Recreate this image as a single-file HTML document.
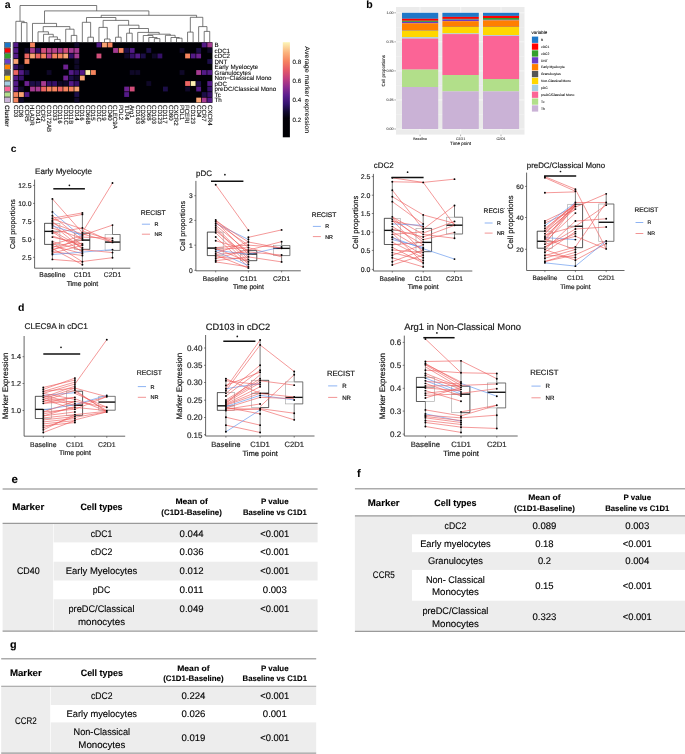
<!DOCTYPE html>
<html><head><meta charset="utf-8"><title>Figure</title>
<style>html,body{margin:0;padding:0;background:#fff;} svg{display:block;font-family:"Liberation Sans", sans-serif;will-change:transform;text-rendering:geometricPrecision;} g.pt text{stroke:#222;stroke-width:0.18px;} g.tb text{stroke:#000;stroke-width:0.12px;} g.pa text{stroke:#333;stroke-width:0.1px;}</style>
</head><body>
<svg width="685" height="754" viewBox="0 0 685 754">
<rect width="685" height="754" fill="#fff"/>
<g class="pa"><text x="4.70" y="7.70" font-size="10.5" text-anchor="start" font-weight="bold" fill="#000" >a</text>
<rect x="13.1" y="42.2" width="199.40" height="60.60" fill="#000004"/>
<rect x="13.45" y="42.55" width="4.84" height="4.81" fill="#531a87"/>
<rect x="30.07" y="42.55" width="4.84" height="4.81" fill="#f5845e"/>
<rect x="74.38" y="42.55" width="4.84" height="4.81" fill="#0f0828"/>
<rect x="96.53" y="42.55" width="4.84" height="4.81" fill="#531a87"/>
<rect x="102.07" y="42.55" width="4.84" height="4.81" fill="#f9a473"/>
<rect x="107.61" y="42.55" width="4.84" height="4.81" fill="#f5845e"/>
<rect x="201.77" y="42.55" width="4.84" height="4.81" fill="#531a87"/>
<rect x="207.31" y="42.55" width="4.84" height="4.81" fill="#a53a91"/>
<rect x="13.45" y="48.06" width="4.84" height="4.81" fill="#531a87"/>
<rect x="24.53" y="48.06" width="4.84" height="4.81" fill="#0f0828"/>
<rect x="30.07" y="48.06" width="4.84" height="4.81" fill="#a53a91"/>
<rect x="35.61" y="48.06" width="4.84" height="4.81" fill="#351068"/>
<rect x="41.14" y="48.06" width="4.84" height="4.81" fill="#d24e7a"/>
<rect x="46.68" y="48.06" width="4.84" height="4.81" fill="#b8428c"/>
<rect x="52.22" y="48.06" width="4.84" height="4.81" fill="#b8428c"/>
<rect x="57.76" y="48.06" width="4.84" height="4.81" fill="#a53a91"/>
<rect x="63.30" y="48.06" width="4.84" height="4.81" fill="#d24e7a"/>
<rect x="68.84" y="48.06" width="4.84" height="4.81" fill="#a53a91"/>
<rect x="74.38" y="48.06" width="4.84" height="4.81" fill="#a53a91"/>
<rect x="113.15" y="48.06" width="4.84" height="4.81" fill="#a53a91"/>
<rect x="118.69" y="48.06" width="4.84" height="4.81" fill="#f5845e"/>
<rect x="124.23" y="48.06" width="4.84" height="4.81" fill="#1c0e48"/>
<rect x="129.77" y="48.06" width="4.84" height="4.81" fill="#531a87"/>
<rect x="146.38" y="48.06" width="4.84" height="4.81" fill="#1c0e48"/>
<rect x="179.62" y="48.06" width="4.84" height="4.81" fill="#0f0828"/>
<rect x="196.23" y="48.06" width="4.84" height="4.81" fill="#1c0e48"/>
<rect x="207.31" y="48.06" width="4.84" height="4.81" fill="#0f0828"/>
<rect x="13.45" y="53.57" width="4.84" height="4.81" fill="#531a87"/>
<rect x="24.53" y="53.57" width="4.84" height="4.81" fill="#ec6563"/>
<rect x="30.07" y="53.57" width="4.84" height="4.81" fill="#f9a473"/>
<rect x="35.61" y="53.57" width="4.84" height="4.81" fill="#ec6563"/>
<rect x="41.14" y="53.57" width="4.84" height="4.81" fill="#f5845e"/>
<rect x="46.68" y="53.57" width="4.84" height="4.81" fill="#b8428c"/>
<rect x="52.22" y="53.57" width="4.84" height="4.81" fill="#f5845e"/>
<rect x="57.76" y="53.57" width="4.84" height="4.81" fill="#f5845e"/>
<rect x="63.30" y="53.57" width="4.84" height="4.81" fill="#f9a473"/>
<rect x="68.84" y="53.57" width="4.84" height="4.81" fill="#351068"/>
<rect x="74.38" y="53.57" width="4.84" height="4.81" fill="#a53a91"/>
<rect x="96.53" y="53.57" width="4.84" height="4.81" fill="#d24e7a"/>
<rect x="124.23" y="53.57" width="4.84" height="4.81" fill="#0f0828"/>
<rect x="129.77" y="53.57" width="4.84" height="4.81" fill="#351068"/>
<rect x="135.31" y="53.57" width="4.84" height="4.81" fill="#531a87"/>
<rect x="140.84" y="53.57" width="4.84" height="4.81" fill="#1c0e48"/>
<rect x="151.92" y="53.57" width="4.84" height="4.81" fill="#0f0828"/>
<rect x="157.46" y="53.57" width="4.84" height="4.81" fill="#351068"/>
<rect x="185.16" y="53.57" width="4.84" height="4.81" fill="#f5845e"/>
<rect x="190.69" y="53.57" width="4.84" height="4.81" fill="#531a87"/>
<rect x="196.23" y="53.57" width="4.84" height="4.81" fill="#6d2191"/>
<rect x="13.45" y="59.08" width="4.84" height="4.81" fill="#f9a473"/>
<rect x="24.53" y="59.08" width="4.84" height="4.81" fill="#f5845e"/>
<rect x="74.38" y="59.08" width="4.84" height="4.81" fill="#0f0828"/>
<rect x="207.31" y="59.08" width="4.84" height="4.81" fill="#1c0e48"/>
<rect x="13.45" y="64.59" width="4.84" height="4.81" fill="#351068"/>
<rect x="18.99" y="64.59" width="4.84" height="4.81" fill="#0f0828"/>
<rect x="63.30" y="64.59" width="4.84" height="4.81" fill="#6d2191"/>
<rect x="74.38" y="64.59" width="4.84" height="4.81" fill="#0f0828"/>
<rect x="13.45" y="70.10" width="4.84" height="4.81" fill="#ec6563"/>
<rect x="18.99" y="70.10" width="4.84" height="4.81" fill="#531a87"/>
<rect x="24.53" y="70.10" width="4.84" height="4.81" fill="#1c0e48"/>
<rect x="46.68" y="70.10" width="4.84" height="4.81" fill="#0f0828"/>
<rect x="68.84" y="70.10" width="4.84" height="4.81" fill="#531a87"/>
<rect x="74.38" y="70.10" width="4.84" height="4.81" fill="#351068"/>
<rect x="79.92" y="70.10" width="4.84" height="4.81" fill="#531a87"/>
<rect x="85.46" y="70.10" width="4.84" height="4.81" fill="#fbf0b2"/>
<rect x="90.99" y="70.10" width="4.84" height="4.81" fill="#f5845e"/>
<rect x="129.77" y="70.10" width="4.84" height="4.81" fill="#0f0828"/>
<rect x="135.31" y="70.10" width="4.84" height="4.81" fill="#0f0828"/>
<rect x="179.62" y="70.10" width="4.84" height="4.81" fill="#0f0828"/>
<rect x="196.23" y="70.10" width="4.84" height="4.81" fill="#a53a91"/>
<rect x="201.77" y="70.10" width="4.84" height="4.81" fill="#531a87"/>
<rect x="207.31" y="70.10" width="4.84" height="4.81" fill="#531a87"/>
<rect x="13.45" y="75.60" width="4.84" height="4.81" fill="#531a87"/>
<rect x="18.99" y="75.60" width="4.84" height="4.81" fill="#351068"/>
<rect x="63.30" y="75.60" width="4.84" height="4.81" fill="#6d2191"/>
<rect x="68.84" y="75.60" width="4.84" height="4.81" fill="#1c0e48"/>
<rect x="74.38" y="75.60" width="4.84" height="4.81" fill="#0f0828"/>
<rect x="79.92" y="75.60" width="4.84" height="4.81" fill="#f9a473"/>
<rect x="13.45" y="81.11" width="4.84" height="4.81" fill="#531a87"/>
<rect x="24.53" y="81.11" width="4.84" height="4.81" fill="#6d2191"/>
<rect x="30.07" y="81.11" width="4.84" height="4.81" fill="#1c0e48"/>
<rect x="35.61" y="81.11" width="4.84" height="4.81" fill="#1c0e48"/>
<rect x="41.14" y="81.11" width="4.84" height="4.81" fill="#a53a91"/>
<rect x="46.68" y="81.11" width="4.84" height="4.81" fill="#351068"/>
<rect x="52.22" y="81.11" width="4.84" height="4.81" fill="#351068"/>
<rect x="57.76" y="81.11" width="4.84" height="4.81" fill="#0f0828"/>
<rect x="63.30" y="81.11" width="4.84" height="4.81" fill="#0f0828"/>
<rect x="68.84" y="81.11" width="4.84" height="4.81" fill="#531a87"/>
<rect x="74.38" y="81.11" width="4.84" height="4.81" fill="#351068"/>
<rect x="146.38" y="81.11" width="4.84" height="4.81" fill="#0f0828"/>
<rect x="185.16" y="81.11" width="4.84" height="4.81" fill="#ec6563"/>
<rect x="190.69" y="81.11" width="4.84" height="4.81" fill="#fbf0b2"/>
<rect x="196.23" y="81.11" width="4.84" height="4.81" fill="#1c0e48"/>
<rect x="207.31" y="81.11" width="4.84" height="4.81" fill="#531a87"/>
<rect x="13.45" y="86.62" width="4.84" height="4.81" fill="#531a87"/>
<rect x="18.99" y="86.62" width="4.84" height="4.81" fill="#0f0828"/>
<rect x="30.07" y="86.62" width="4.84" height="4.81" fill="#a53a91"/>
<rect x="35.61" y="86.62" width="4.84" height="4.81" fill="#a53a91"/>
<rect x="41.14" y="86.62" width="4.84" height="4.81" fill="#ec6563"/>
<rect x="46.68" y="86.62" width="4.84" height="4.81" fill="#f5845e"/>
<rect x="52.22" y="86.62" width="4.84" height="4.81" fill="#f5845e"/>
<rect x="57.76" y="86.62" width="4.84" height="4.81" fill="#ec6563"/>
<rect x="63.30" y="86.62" width="4.84" height="4.81" fill="#f5845e"/>
<rect x="68.84" y="86.62" width="4.84" height="4.81" fill="#f5845e"/>
<rect x="74.38" y="86.62" width="4.84" height="4.81" fill="#f9a473"/>
<rect x="124.23" y="86.62" width="4.84" height="4.81" fill="#6d2191"/>
<rect x="129.77" y="86.62" width="4.84" height="4.81" fill="#d24e7a"/>
<rect x="163.00" y="86.62" width="4.84" height="4.81" fill="#1c0e48"/>
<rect x="185.16" y="86.62" width="4.84" height="4.81" fill="#0f0828"/>
<rect x="196.23" y="86.62" width="4.84" height="4.81" fill="#531a87"/>
<rect x="207.31" y="86.62" width="4.84" height="4.81" fill="#351068"/>
<rect x="13.45" y="92.13" width="4.84" height="4.81" fill="#f5845e"/>
<rect x="18.99" y="92.13" width="4.84" height="4.81" fill="#f9a473"/>
<rect x="24.53" y="92.13" width="4.84" height="4.81" fill="#531a87"/>
<rect x="74.38" y="92.13" width="4.84" height="4.81" fill="#1c0e48"/>
<rect x="124.23" y="92.13" width="4.84" height="4.81" fill="#531a87"/>
<rect x="201.77" y="92.13" width="4.84" height="4.81" fill="#1c0e48"/>
<rect x="207.31" y="92.13" width="4.84" height="4.81" fill="#351068"/>
<rect x="13.45" y="97.64" width="4.84" height="4.81" fill="#f5845e"/>
<rect x="18.99" y="97.64" width="4.84" height="4.81" fill="#0f0828"/>
<rect x="74.38" y="97.64" width="4.84" height="4.81" fill="#0f0828"/>
<rect x="196.23" y="97.64" width="4.84" height="4.81" fill="#f9a473"/>
<rect x="201.77" y="97.64" width="4.84" height="4.81" fill="#a53a91"/>
<rect x="207.31" y="97.64" width="4.84" height="4.81" fill="#531a87"/>
<line x1="12.799999999999999" y1="42.2" x2="12.799999999999999" y2="102.8" stroke="#9a9a9a" stroke-width="0.8"/>
<rect x="4.6" y="42.60" width="5.9" height="4.71" fill="#1f78c8" stroke="#444" stroke-width="0.6"/>
<rect x="4.6" y="48.11" width="5.9" height="4.71" fill="#ff0000" stroke="#444" stroke-width="0.6"/>
<rect x="4.6" y="53.62" width="5.9" height="4.71" fill="#33a02c" stroke="#444" stroke-width="0.6"/>
<rect x="4.6" y="59.13" width="5.9" height="4.71" fill="#6a3dc8" stroke="#444" stroke-width="0.6"/>
<rect x="4.6" y="64.64" width="5.9" height="4.71" fill="#ff7f00" stroke="#444" stroke-width="0.6"/>
<rect x="4.6" y="70.15" width="5.9" height="4.71" fill="#565656" stroke="#444" stroke-width="0.6"/>
<rect x="4.6" y="75.65" width="5.9" height="4.71" fill="#ffd700" stroke="#444" stroke-width="0.6"/>
<rect x="4.6" y="81.16" width="5.9" height="4.71" fill="#a6cee3" stroke="#444" stroke-width="0.6"/>
<rect x="4.6" y="86.67" width="5.9" height="4.71" fill="#fb6496" stroke="#444" stroke-width="0.6"/>
<rect x="4.6" y="92.18" width="5.9" height="4.71" fill="#b2df8a" stroke="#444" stroke-width="0.6"/>
<rect x="4.6" y="97.69" width="5.9" height="4.71" fill="#cab2d6" stroke="#444" stroke-width="0.6"/>
<text x="214.60" y="47.15" font-size="6.2" text-anchor="start" font-weight="normal" fill="#000" >B</text>
<text x="214.60" y="52.66" font-size="6.2" text-anchor="start" font-weight="normal" fill="#000" >cDC1</text>
<text x="214.60" y="58.17" font-size="6.2" text-anchor="start" font-weight="normal" fill="#000" >cDC2</text>
<text x="214.60" y="63.68" font-size="6.2" text-anchor="start" font-weight="normal" fill="#000" >DNT</text>
<text x="214.60" y="69.19" font-size="6.2" text-anchor="start" font-weight="normal" fill="#000" >Early Myelocyte</text>
<text x="214.60" y="74.70" font-size="6.2" text-anchor="start" font-weight="normal" fill="#000" >Granulocytes</text>
<text x="214.60" y="80.21" font-size="6.2" text-anchor="start" font-weight="normal" fill="#000" >Non−Classical Mono</text>
<text x="214.60" y="85.72" font-size="6.2" text-anchor="start" font-weight="normal" fill="#000" >pDC</text>
<text x="214.60" y="91.23" font-size="6.2" text-anchor="start" font-weight="normal" fill="#000" >preDC/Classical Mono</text>
<text x="214.60" y="96.74" font-size="6.2" text-anchor="start" font-weight="normal" fill="#000" >Tc</text>
<text x="214.60" y="102.25" font-size="6.2" text-anchor="start" font-weight="normal" fill="#000" >Th</text>
<text transform="translate(13.77,105.0) rotate(90)" font-size="6.1" fill="#000">CD3</text>
<text transform="translate(19.31,105.0) rotate(90)" font-size="6.1" fill="#000">CD8</text>
<text transform="translate(24.85,105.0) rotate(90)" font-size="6.1" fill="#000">CCR5</text>
<text transform="translate(30.39,105.0) rotate(90)" font-size="6.1" fill="#000">HLADR</text>
<text transform="translate(35.92,105.0) rotate(90)" font-size="6.1" fill="#000">CD141</text>
<text transform="translate(41.46,105.0) rotate(90)" font-size="6.1" fill="#000">CCR2</text>
<text transform="translate(47.00,105.0) rotate(90)" font-size="6.1" fill="#000">CD172AB</text>
<text transform="translate(52.54,105.0) rotate(90)" font-size="6.1" fill="#000">CD33</text>
<text transform="translate(58.08,105.0) rotate(90)" font-size="6.1" fill="#000">CD116</text>
<text transform="translate(63.62,105.0) rotate(90)" font-size="6.1" fill="#000">CD11C</text>
<text transform="translate(69.16,105.0) rotate(90)" font-size="6.1" fill="#000">CD11B</text>
<text transform="translate(74.70,105.0) rotate(90)" font-size="6.1" fill="#000">CD14</text>
<text transform="translate(80.24,105.0) rotate(90)" font-size="6.1" fill="#000">CD16</text>
<text transform="translate(85.77,105.0) rotate(90)" font-size="6.1" fill="#000">CD66B</text>
<text transform="translate(91.31,105.0) rotate(90)" font-size="6.1" fill="#000">CD15</text>
<text transform="translate(96.85,105.0) rotate(90)" font-size="6.1" fill="#000">CD1C</text>
<text transform="translate(102.39,105.0) rotate(90)" font-size="6.1" fill="#000">CD19</text>
<text transform="translate(107.93,105.0) rotate(90)" font-size="6.1" fill="#000">CD40</text>
<text transform="translate(113.47,105.0) rotate(90)" font-size="6.1" fill="#000">CLEC9A</text>
<text transform="translate(119.01,105.0) rotate(90)" font-size="6.1" fill="#000">PDL2</text>
<text transform="translate(124.55,105.0) rotate(90)" font-size="6.1" fill="#000">TLR4</text>
<text transform="translate(130.09,105.0) rotate(90)" font-size="6.1" fill="#000">Arg1</text>
<text transform="translate(135.62,105.0) rotate(90)" font-size="6.1" fill="#000">CD163</text>
<text transform="translate(141.16,105.0) rotate(90)" font-size="6.1" fill="#000">CD206</text>
<text transform="translate(146.70,105.0) rotate(90)" font-size="6.1" fill="#000">CD68</text>
<text transform="translate(152.24,105.0) rotate(90)" font-size="6.1" fill="#000">CD103</text>
<text transform="translate(157.78,105.0) rotate(90)" font-size="6.1" fill="#000">CD123</text>
<text transform="translate(163.32,105.0) rotate(90)" font-size="6.1" fill="#000">CD117</text>
<text transform="translate(168.86,105.0) rotate(90)" font-size="6.1" fill="#000">CD80</text>
<text transform="translate(174.40,105.0) rotate(90)" font-size="6.1" fill="#000">CXCR2</text>
<text transform="translate(179.94,105.0) rotate(90)" font-size="6.1" fill="#000">PDL1</text>
<text transform="translate(185.47,105.0) rotate(90)" font-size="6.1" fill="#000">FCERI</text>
<text transform="translate(191.01,105.0) rotate(90)" font-size="6.1" fill="#000">CD123</text>
<text transform="translate(196.55,105.0) rotate(90)" font-size="6.1" fill="#000">CD4</text>
<text transform="translate(202.09,105.0) rotate(90)" font-size="6.1" fill="#000">CCR7</text>
<text transform="translate(207.63,105.0) rotate(90)" font-size="6.1" fill="#000">CXCR4</text>
<text transform="translate(5.35,105.0) rotate(90)" font-size="6.3" font-weight="bold" fill="#222">Cluster</text>
<path d="M21.41,42.20V22.60H26.95V42.20 M15.87,42.20V21.30H24.18V22.60 M54.64,42.20V39.40H60.18V42.20 M49.10,42.20V36.90H57.41V39.40 M43.56,42.20V34.30H53.26V36.90 M38.02,42.20V31.80H48.41V34.30 M71.26,42.20V35.40H76.80V42.20 M65.72,42.20V29.20H74.03V35.40 M43.22,31.80V26.60H69.87V29.20 M32.49,42.20V23.40H56.55V26.60 M87.87,42.20V37.20H93.41V42.20 M82.34,42.20V22.30H90.64V37.20 M104.49,42.20V39.00H110.03V42.20 M98.95,42.20V27.40H107.26V39.00 M115.57,42.20V37.20H121.11V42.20 M126.65,42.20V33.20H132.19V42.20 M154.34,42.20V38.60H159.88V42.20 M148.80,42.20V37.50H157.11V38.60 M143.26,42.20V35.50H152.96V37.50 M176.50,42.20V38.20H182.04V42.20 M170.96,42.20V37.50H179.27V38.20 M165.42,42.20V35.30H175.11V37.50 M148.11,35.50V34.20H170.27V35.30 M137.72,42.20V32.40H159.19V34.20 M129.42,33.20V28.50H148.46V32.40 M118.34,37.20V25.20H138.94V28.50 M103.11,27.40V20.40H128.64V25.20 M86.49,22.30V17.50H115.87V20.40 M187.57,42.20V32.10H193.11V42.20 M204.19,42.20V31.40H209.73V42.20 M198.65,42.20V26.60H206.96V31.40 M190.34,32.10V17.30H202.81V26.60 M101.18,17.50V15.30H196.58V17.30 M44.52,23.40V10.90H148.88V15.30 M20.02,21.30V5.50H96.70V10.90" fill="none" stroke="#4d4d4d" stroke-width="0.75"/>
<defs><linearGradient id="cbar" x1="0" y1="1" x2="0" y2="0"><stop offset="0" stop-color="#000004"/><stop offset="0.2" stop-color="#030108"/><stop offset="0.27" stop-color="#120a30"/><stop offset="0.35" stop-color="#33136e"/><stop offset="0.44" stop-color="#5b1d8e"/><stop offset="0.53" stop-color="#8e2d8f"/><stop offset="0.62" stop-color="#c23f7e"/><stop offset="0.71" stop-color="#e65a66"/><stop offset="0.80" stop-color="#f6835f"/><stop offset="0.89" stop-color="#fbb27c"/><stop offset="1" stop-color="#fcf5b8"/></linearGradient></defs>
<rect x="282.8" y="42.2" width="7.1" height="95.1" fill="url(#cbar)"/>
<line x1="289.9" y1="61.7" x2="291.2" y2="61.7" stroke="#fff" stroke-width="0.5"/>
<text x="292.60" y="63.90" font-size="6.2" text-anchor="start" font-weight="normal" fill="#000" >0.8</text>
<line x1="289.9" y1="80.7" x2="291.2" y2="80.7" stroke="#fff" stroke-width="0.5"/>
<text x="292.60" y="82.90" font-size="6.2" text-anchor="start" font-weight="normal" fill="#000" >0.6</text>
<line x1="289.9" y1="99.9" x2="291.2" y2="99.9" stroke="#fff" stroke-width="0.5"/>
<text x="292.60" y="102.10" font-size="6.2" text-anchor="start" font-weight="normal" fill="#000" >0.4</text>
<line x1="289.9" y1="119.3" x2="291.2" y2="119.3" stroke="#fff" stroke-width="0.5"/>
<text x="292.60" y="121.50" font-size="6.2" text-anchor="start" font-weight="normal" fill="#000" >0.2</text>
<text transform="translate(305.2,46.3) rotate(90)" font-size="6.6" fill="#000" textLength="87" lengthAdjust="spacingAndGlyphs">Average marker expression</text></g>
<g class="pa"><text x="366.30" y="8.40" font-size="10.5" text-anchor="start" font-weight="bold" fill="#000" >b</text>
<rect x="396" y="7" width="128.5" height="127.6" fill="#ebebeb"/>
<line x1="396" y1="129.00" x2="524.5" y2="129.00" stroke="#fff" stroke-width="0.55"/>
<line x1="396" y1="99.95" x2="524.5" y2="99.95" stroke="#fff" stroke-width="0.55"/>
<line x1="396" y1="70.90" x2="524.5" y2="70.90" stroke="#fff" stroke-width="0.55"/>
<line x1="396" y1="41.85" x2="524.5" y2="41.85" stroke="#fff" stroke-width="0.55"/>
<line x1="396" y1="12.80" x2="524.5" y2="12.80" stroke="#fff" stroke-width="0.55"/>
<line x1="396" y1="114.47" x2="524.5" y2="114.47" stroke="#f7f7f7" stroke-width="0.3"/>
<line x1="396" y1="85.42" x2="524.5" y2="85.42" stroke="#f7f7f7" stroke-width="0.3"/>
<line x1="396" y1="56.38" x2="524.5" y2="56.38" stroke="#f7f7f7" stroke-width="0.3"/>
<line x1="396" y1="27.33" x2="524.5" y2="27.33" stroke="#f7f7f7" stroke-width="0.3"/>
<line x1="420" y1="7" x2="420" y2="134.6" stroke="#fff" stroke-width="0.55"/>
<line x1="460.7" y1="7" x2="460.7" y2="134.6" stroke="#fff" stroke-width="0.55"/>
<line x1="501" y1="7" x2="501" y2="134.6" stroke="#fff" stroke-width="0.55"/>
<rect x="402.0" y="12.80" width="36.20" height="6.00" fill="#1f78c8"/>
<rect x="402.0" y="18.80" width="36.20" height="2.00" fill="#ff0000"/>
<rect x="402.0" y="20.80" width="36.20" height="1.10" fill="#33a02c"/>
<rect x="402.0" y="21.90" width="36.20" height="1.40" fill="#6a3dc8"/>
<rect x="402.0" y="23.30" width="36.20" height="7.20" fill="#ff7f00"/>
<rect x="402.0" y="30.50" width="36.20" height="0.30" fill="#565656"/>
<rect x="402.0" y="30.80" width="36.20" height="6.40" fill="#ffd700"/>
<rect x="402.0" y="37.20" width="36.20" height="1.40" fill="#a6cee3"/>
<rect x="402.0" y="38.60" width="36.20" height="31.00" fill="#fb6496"/>
<rect x="402.0" y="69.60" width="36.20" height="17.40" fill="#b2df8a"/>
<rect x="402.0" y="87.00" width="36.20" height="42.00" fill="#cab2d6"/>
<rect x="442.4" y="12.80" width="36.40" height="4.10" fill="#1f78c8"/>
<rect x="442.4" y="16.90" width="36.40" height="2.00" fill="#ff0000"/>
<rect x="442.4" y="18.90" width="36.40" height="0.70" fill="#33a02c"/>
<rect x="442.4" y="19.60" width="36.40" height="1.60" fill="#6a3dc8"/>
<rect x="442.4" y="21.20" width="36.40" height="5.60" fill="#ff7f00"/>
<rect x="442.4" y="26.80" width="36.40" height="0.20" fill="#565656"/>
<rect x="442.4" y="27.00" width="36.40" height="6.40" fill="#ffd700"/>
<rect x="442.4" y="33.40" width="36.40" height="0.70" fill="#a6cee3"/>
<rect x="442.4" y="34.10" width="36.40" height="40.90" fill="#fb6496"/>
<rect x="442.4" y="75.00" width="36.40" height="16.40" fill="#b2df8a"/>
<rect x="442.4" y="91.40" width="36.40" height="37.60" fill="#cab2d6"/>
<rect x="483.0" y="12.80" width="36.10" height="3.10" fill="#1f78c8"/>
<rect x="483.0" y="15.90" width="36.10" height="2.10" fill="#ff0000"/>
<rect x="483.0" y="18.00" width="36.10" height="1.80" fill="#33a02c"/>
<rect x="483.0" y="19.80" width="36.10" height="0.60" fill="#6a3dc8"/>
<rect x="483.0" y="20.40" width="36.10" height="6.40" fill="#ff7f00"/>
<rect x="483.0" y="26.80" width="36.10" height="0.20" fill="#565656"/>
<rect x="483.0" y="27.00" width="36.10" height="8.10" fill="#ffd700"/>
<rect x="483.0" y="35.10" width="36.10" height="0.80" fill="#a6cee3"/>
<rect x="483.0" y="35.90" width="36.10" height="43.10" fill="#fb6496"/>
<rect x="483.0" y="79.00" width="36.10" height="12.40" fill="#b2df8a"/>
<rect x="483.0" y="91.40" width="36.10" height="37.60" fill="#cab2d6"/>
<line x1="394.3" y1="12.80" x2="396" y2="12.80" stroke="#333" stroke-width="0.4"/>
<text x="393.60" y="14.10" font-size="3.6" text-anchor="end" font-weight="normal" fill="#4d4d4d" >1.00</text>
<line x1="394.3" y1="41.85" x2="396" y2="41.85" stroke="#333" stroke-width="0.4"/>
<text x="393.60" y="43.15" font-size="3.6" text-anchor="end" font-weight="normal" fill="#4d4d4d" >0.75</text>
<line x1="394.3" y1="70.90" x2="396" y2="70.90" stroke="#333" stroke-width="0.4"/>
<text x="393.60" y="72.20" font-size="3.6" text-anchor="end" font-weight="normal" fill="#4d4d4d" >0.50</text>
<line x1="394.3" y1="99.95" x2="396" y2="99.95" stroke="#333" stroke-width="0.4"/>
<text x="393.60" y="101.25" font-size="3.6" text-anchor="end" font-weight="normal" fill="#4d4d4d" >0.25</text>
<line x1="394.3" y1="129.00" x2="396" y2="129.00" stroke="#333" stroke-width="0.4"/>
<text x="393.60" y="130.30" font-size="3.6" text-anchor="end" font-weight="normal" fill="#4d4d4d" >0.00</text>
<line x1="420.1" y1="134.6" x2="420.1" y2="136.2" stroke="#333" stroke-width="0.4"/>
<text x="420.10" y="139.60" font-size="3.6" text-anchor="middle" font-weight="normal" fill="#4d4d4d" >Baseline</text>
<line x1="460.6" y1="134.6" x2="460.6" y2="136.2" stroke="#333" stroke-width="0.4"/>
<text x="460.60" y="139.60" font-size="3.6" text-anchor="middle" font-weight="normal" fill="#4d4d4d" >C1D1</text>
<line x1="501.0" y1="134.6" x2="501.0" y2="136.2" stroke="#333" stroke-width="0.4"/>
<text x="501.00" y="139.60" font-size="3.6" text-anchor="middle" font-weight="normal" fill="#4d4d4d" >C2D1</text>
<text x="460.50" y="145.10" font-size="4.5" text-anchor="middle" font-weight="normal" fill="#000" >Time point</text>
<text transform="translate(385.4,70.8) rotate(-90)" font-size="4.5" text-anchor="middle" fill="#000">Cell proportions</text>
<text x="531.40" y="34.40" font-size="4.5" text-anchor="start" font-weight="normal" fill="#000" >variable</text>
<rect x="531.9" y="36.60" width="6.3" height="6.3" fill="#1f78c8"/>
<text x="541.00" y="40.95" font-size="3.35" text-anchor="start" font-weight="normal" fill="#222" >B</text>
<rect x="531.9" y="43.47" width="6.3" height="6.3" fill="#ff0000"/>
<text x="541.00" y="47.82" font-size="3.35" text-anchor="start" font-weight="normal" fill="#222" >cDC1</text>
<rect x="531.9" y="50.34" width="6.3" height="6.3" fill="#33a02c"/>
<text x="541.00" y="54.69" font-size="3.35" text-anchor="start" font-weight="normal" fill="#222" >cDC2</text>
<rect x="531.9" y="57.21" width="6.3" height="6.3" fill="#6a3dc8"/>
<text x="541.00" y="61.56" font-size="3.35" text-anchor="start" font-weight="normal" fill="#222" >DNT</text>
<rect x="531.9" y="64.08" width="6.3" height="6.3" fill="#ff7f00"/>
<text x="541.00" y="68.43" font-size="3.35" text-anchor="start" font-weight="normal" fill="#222" >Early Myelocyte</text>
<rect x="531.9" y="70.95" width="6.3" height="6.3" fill="#565656"/>
<text x="541.00" y="75.30" font-size="3.35" text-anchor="start" font-weight="normal" fill="#222" >Granulocytes</text>
<rect x="531.9" y="77.82" width="6.3" height="6.3" fill="#ffd700"/>
<text x="541.00" y="82.17" font-size="3.35" text-anchor="start" font-weight="normal" fill="#222" >Non-Classical Mono</text>
<rect x="531.9" y="84.69" width="6.3" height="6.3" fill="#a6cee3"/>
<text x="541.00" y="89.04" font-size="3.35" text-anchor="start" font-weight="normal" fill="#222" >pDC</text>
<rect x="531.9" y="91.56" width="6.3" height="6.3" fill="#fb6496"/>
<text x="541.00" y="95.91" font-size="3.35" text-anchor="start" font-weight="normal" fill="#222" >preDC/Classical Mono</text>
<rect x="531.9" y="98.43" width="6.3" height="6.3" fill="#b2df8a"/>
<text x="541.00" y="102.78" font-size="3.35" text-anchor="start" font-weight="normal" fill="#222" >Tc</text>
<rect x="531.9" y="105.30" width="6.3" height="6.3" fill="#cab2d6"/>
<text x="541.00" y="109.65" font-size="3.35" text-anchor="start" font-weight="normal" fill="#222" >Th</text></g>
<text x="10.80" y="151.80" font-size="10.3" text-anchor="start" font-weight="bold" fill="#000" >c</text>
<text x="17.90" y="311.20" font-size="10.5" text-anchor="start" font-weight="bold" fill="#000" >d</text>
<g class="pt"><line x1="52.40" y1="198.80" x2="52.40" y2="223.30" stroke="#222" stroke-width="0.6"/>
<line x1="52.40" y1="244.40" x2="52.40" y2="259.30" stroke="#222" stroke-width="0.6"/>
<rect x="44.60" y="223.30" width="15.30" height="21.10" fill="none" stroke="#a8a8a8" stroke-width="0.65"/>
<line x1="44.60" y1="231.40" x2="59.90" y2="231.40" stroke="#a8a8a8" stroke-width="1.2"/>
<path d="M52.40,223.30H44.60V244.40H52.40" fill="none" stroke="#262626" stroke-width="0.65"/>
<line x1="44.60" y1="231.40" x2="52.40" y2="231.40" stroke="#111" stroke-width="1.3"/>
<line x1="82.40" y1="212.60" x2="82.40" y2="233.20" stroke="#222" stroke-width="0.6"/>
<line x1="82.40" y1="249.30" x2="82.40" y2="264.70" stroke="#222" stroke-width="0.6"/>
<rect x="74.50" y="233.20" width="15.30" height="16.10" fill="none" stroke="#a8a8a8" stroke-width="0.65"/>
<line x1="74.50" y1="240.10" x2="89.80" y2="240.10" stroke="#a8a8a8" stroke-width="1.2"/>
<path d="M82.40,233.20H89.80V249.30H82.40" fill="none" stroke="#262626" stroke-width="0.65"/>
<line x1="82.40" y1="240.10" x2="89.80" y2="240.10" stroke="#111" stroke-width="1.3"/>
<line x1="112.50" y1="224.80" x2="112.50" y2="234.50" stroke="#222" stroke-width="0.6"/>
<line x1="112.50" y1="250.40" x2="112.50" y2="257.80" stroke="#222" stroke-width="0.6"/>
<rect x="105.10" y="234.50" width="15.00" height="15.90" fill="none" stroke="#a8a8a8" stroke-width="0.65"/>
<line x1="105.10" y1="242.10" x2="120.10" y2="242.10" stroke="#a8a8a8" stroke-width="1.2"/>
<line x1="105.10" y1="242.10" x2="120.10" y2="242.10" stroke="#111" stroke-width="1.3"/>
<path d="M112.50,234.50H120.10V250.40H112.50" fill="none" stroke="#555" stroke-width="0.6"/>
<line x1="52.40" y1="198.90" x2="82.40" y2="232.80" stroke="#ee5c5c" stroke-width="0.68" stroke-opacity="0.92"/>
<line x1="52.40" y1="211.90" x2="82.40" y2="237.60" stroke="#5a90ee" stroke-width="0.68" stroke-opacity="0.92"/>
<line x1="52.40" y1="215.80" x2="82.40" y2="240.00" stroke="#ee5c5c" stroke-width="0.68" stroke-opacity="0.92"/>
<line x1="52.40" y1="218.20" x2="82.40" y2="212.90" stroke="#ee5c5c" stroke-width="0.68" stroke-opacity="0.92"/>
<line x1="52.40" y1="220.20" x2="82.40" y2="214.40" stroke="#ee5c5c" stroke-width="0.68" stroke-opacity="0.92"/>
<line x1="52.40" y1="221.60" x2="82.40" y2="245.30" stroke="#ee5c5c" stroke-width="0.68" stroke-opacity="0.92"/>
<line x1="52.40" y1="223.10" x2="82.40" y2="234.20" stroke="#ee5c5c" stroke-width="0.68" stroke-opacity="0.92"/>
<line x1="52.40" y1="224.50" x2="82.40" y2="249.20" stroke="#ee5c5c" stroke-width="0.68" stroke-opacity="0.92"/>
<line x1="52.40" y1="226.00" x2="82.40" y2="235.00" stroke="#5a90ee" stroke-width="0.68" stroke-opacity="0.92"/>
<line x1="52.40" y1="228.00" x2="82.40" y2="238.60" stroke="#ee5c5c" stroke-width="0.68" stroke-opacity="0.92"/>
<line x1="52.40" y1="230.80" x2="82.40" y2="247.80" stroke="#ee5c5c" stroke-width="0.68" stroke-opacity="0.92"/>
<line x1="52.40" y1="231.80" x2="82.40" y2="252.10" stroke="#ee5c5c" stroke-width="0.68" stroke-opacity="0.92"/>
<line x1="52.40" y1="233.20" x2="82.40" y2="227.90" stroke="#ee5c5c" stroke-width="0.68" stroke-opacity="0.92"/>
<line x1="52.40" y1="237.10" x2="82.40" y2="243.90" stroke="#ee5c5c" stroke-width="0.68" stroke-opacity="0.92"/>
<line x1="52.40" y1="241.50" x2="82.40" y2="250.70" stroke="#ee5c5c" stroke-width="0.68" stroke-opacity="0.92"/>
<line x1="52.40" y1="242.90" x2="82.40" y2="261.80" stroke="#ee5c5c" stroke-width="0.68" stroke-opacity="0.92"/>
<line x1="52.40" y1="244.40" x2="82.40" y2="235.70" stroke="#ee5c5c" stroke-width="0.68" stroke-opacity="0.92"/>
<line x1="52.40" y1="245.80" x2="82.40" y2="253.60" stroke="#ee5c5c" stroke-width="0.68" stroke-opacity="0.92"/>
<line x1="52.40" y1="247.30" x2="82.40" y2="240.00" stroke="#ee5c5c" stroke-width="0.68" stroke-opacity="0.92"/>
<line x1="52.40" y1="248.70" x2="82.40" y2="264.70" stroke="#ee5c5c" stroke-width="0.68" stroke-opacity="0.92"/>
<line x1="52.40" y1="250.20" x2="82.40" y2="237.10" stroke="#ee5c5c" stroke-width="0.68" stroke-opacity="0.92"/>
<line x1="52.40" y1="251.60" x2="82.40" y2="255.50" stroke="#ee5c5c" stroke-width="0.68" stroke-opacity="0.92"/>
<line x1="52.40" y1="253.10" x2="82.40" y2="245.30" stroke="#ee5c5c" stroke-width="0.68" stroke-opacity="0.92"/>
<line x1="52.40" y1="254.50" x2="82.40" y2="252.10" stroke="#5a90ee" stroke-width="0.68" stroke-opacity="0.92"/>
<line x1="52.40" y1="259.40" x2="82.40" y2="261.80" stroke="#ee5c5c" stroke-width="0.68" stroke-opacity="0.92"/>
<line x1="52.40" y1="219.00" x2="82.40" y2="229.00" stroke="#ee5c5c" stroke-width="0.68" stroke-opacity="0.92"/>
<line x1="52.40" y1="236.00" x2="82.40" y2="246.00" stroke="#ee5c5c" stroke-width="0.68" stroke-opacity="0.92"/>
<line x1="52.40" y1="249.50" x2="82.40" y2="243.00" stroke="#ee5c5c" stroke-width="0.68" stroke-opacity="0.92"/>
<line x1="82.40" y1="232.30" x2="112.50" y2="183.00" stroke="#ee5c5c" stroke-width="0.68" stroke-opacity="0.92"/>
<line x1="82.40" y1="235.30" x2="112.50" y2="225.10" stroke="#ee5c5c" stroke-width="0.68" stroke-opacity="0.92"/>
<line x1="82.40" y1="228.10" x2="112.50" y2="242.40" stroke="#ee5c5c" stroke-width="0.68" stroke-opacity="0.92"/>
<line x1="82.40" y1="231.10" x2="112.50" y2="240.50" stroke="#ee5c5c" stroke-width="0.68" stroke-opacity="0.92"/>
<line x1="82.40" y1="237.10" x2="112.50" y2="238.20" stroke="#ee5c5c" stroke-width="0.68" stroke-opacity="0.92"/>
<line x1="82.40" y1="252.10" x2="112.50" y2="249.60" stroke="#5a90ee" stroke-width="0.68" stroke-opacity="0.92"/>
<line x1="82.40" y1="249.60" x2="112.50" y2="252.60" stroke="#ee5c5c" stroke-width="0.68" stroke-opacity="0.92"/>
<line x1="82.40" y1="261.50" x2="112.50" y2="257.70" stroke="#ee5c5c" stroke-width="0.68" stroke-opacity="0.92"/>
<line x1="82.40" y1="234.00" x2="112.50" y2="242.00" stroke="#ee5c5c" stroke-width="0.68" stroke-opacity="0.92"/>
<circle cx="52.40" cy="198.90" r="0.95" fill="#000"/>
<circle cx="52.40" cy="211.90" r="0.95" fill="#000"/>
<circle cx="52.40" cy="215.80" r="0.95" fill="#000"/>
<circle cx="52.40" cy="218.20" r="0.95" fill="#000"/>
<circle cx="52.40" cy="220.20" r="0.95" fill="#000"/>
<circle cx="52.40" cy="221.60" r="0.95" fill="#000"/>
<circle cx="52.40" cy="223.10" r="0.95" fill="#000"/>
<circle cx="52.40" cy="224.50" r="0.95" fill="#000"/>
<circle cx="52.40" cy="226.00" r="0.95" fill="#000"/>
<circle cx="52.40" cy="228.00" r="0.95" fill="#000"/>
<circle cx="52.40" cy="230.80" r="0.95" fill="#000"/>
<circle cx="52.40" cy="231.80" r="0.95" fill="#000"/>
<circle cx="52.40" cy="233.20" r="0.95" fill="#000"/>
<circle cx="52.40" cy="237.10" r="0.95" fill="#000"/>
<circle cx="52.40" cy="241.50" r="0.95" fill="#000"/>
<circle cx="52.40" cy="242.90" r="0.95" fill="#000"/>
<circle cx="52.40" cy="244.40" r="0.95" fill="#000"/>
<circle cx="52.40" cy="245.80" r="0.95" fill="#000"/>
<circle cx="52.40" cy="247.30" r="0.95" fill="#000"/>
<circle cx="52.40" cy="248.70" r="0.95" fill="#000"/>
<circle cx="52.40" cy="250.20" r="0.95" fill="#000"/>
<circle cx="52.40" cy="251.60" r="0.95" fill="#000"/>
<circle cx="52.40" cy="253.10" r="0.95" fill="#000"/>
<circle cx="52.40" cy="254.50" r="0.95" fill="#000"/>
<circle cx="52.40" cy="259.40" r="0.95" fill="#000"/>
<circle cx="82.40" cy="212.90" r="0.95" fill="#000"/>
<circle cx="82.40" cy="214.40" r="0.95" fill="#000"/>
<circle cx="82.40" cy="227.90" r="0.95" fill="#000"/>
<circle cx="82.40" cy="232.80" r="0.95" fill="#000"/>
<circle cx="82.40" cy="234.20" r="0.95" fill="#000"/>
<circle cx="82.40" cy="235.70" r="0.95" fill="#000"/>
<circle cx="82.40" cy="237.10" r="0.95" fill="#000"/>
<circle cx="82.40" cy="238.60" r="0.95" fill="#000"/>
<circle cx="82.40" cy="240.00" r="0.95" fill="#000"/>
<circle cx="82.40" cy="243.90" r="0.95" fill="#000"/>
<circle cx="82.40" cy="245.30" r="0.95" fill="#000"/>
<circle cx="82.40" cy="247.80" r="0.95" fill="#000"/>
<circle cx="82.40" cy="249.20" r="0.95" fill="#000"/>
<circle cx="82.40" cy="250.70" r="0.95" fill="#000"/>
<circle cx="82.40" cy="252.10" r="0.95" fill="#000"/>
<circle cx="82.40" cy="253.60" r="0.95" fill="#000"/>
<circle cx="82.40" cy="255.50" r="0.95" fill="#000"/>
<circle cx="82.40" cy="261.80" r="0.95" fill="#000"/>
<circle cx="82.40" cy="264.70" r="0.95" fill="#000"/>
<circle cx="112.50" cy="183.00" r="0.95" fill="#000"/>
<circle cx="112.50" cy="225.10" r="0.95" fill="#000"/>
<circle cx="112.50" cy="238.20" r="0.95" fill="#000"/>
<circle cx="112.50" cy="240.50" r="0.95" fill="#000"/>
<circle cx="112.50" cy="242.40" r="0.95" fill="#000"/>
<circle cx="112.50" cy="249.60" r="0.95" fill="#000"/>
<circle cx="112.50" cy="252.60" r="0.95" fill="#000"/>
<circle cx="112.50" cy="257.70" r="0.95" fill="#000"/>
<path d="M34.60,179.60V268.20H130.30" fill="none" stroke="#333" stroke-width="0.75"/>
<line x1="33.00" y1="185.40" x2="34.60" y2="185.40" stroke="#333" stroke-width="0.6"/>
<text x="31.50" y="187.85" font-size="6.8" text-anchor="end" font-weight="normal" fill="#2b2b2b" >12.5</text>
<line x1="33.00" y1="203.40" x2="34.60" y2="203.40" stroke="#333" stroke-width="0.6"/>
<text x="31.50" y="205.85" font-size="6.8" text-anchor="end" font-weight="normal" fill="#2b2b2b" >10.0</text>
<line x1="33.00" y1="221.30" x2="34.60" y2="221.30" stroke="#333" stroke-width="0.6"/>
<text x="31.50" y="223.75" font-size="6.8" text-anchor="end" font-weight="normal" fill="#2b2b2b" >7.5</text>
<line x1="33.00" y1="239.40" x2="34.60" y2="239.40" stroke="#333" stroke-width="0.6"/>
<text x="31.50" y="241.85" font-size="6.8" text-anchor="end" font-weight="normal" fill="#2b2b2b" >5.0</text>
<line x1="33.00" y1="257.30" x2="34.60" y2="257.30" stroke="#333" stroke-width="0.6"/>
<text x="31.50" y="259.75" font-size="6.8" text-anchor="end" font-weight="normal" fill="#2b2b2b" >2.5</text>
<line x1="52.40" y1="268.20" x2="52.40" y2="269.80" stroke="#333" stroke-width="0.6"/>
<text x="52.40" y="277.28" font-size="6.8" text-anchor="middle" font-weight="normal" fill="#2b2b2b" >Baseline</text>
<line x1="82.40" y1="268.20" x2="82.40" y2="269.80" stroke="#333" stroke-width="0.6"/>
<text x="82.40" y="277.28" font-size="6.8" text-anchor="middle" font-weight="normal" fill="#2b2b2b" >C1D1</text>
<line x1="112.50" y1="268.20" x2="112.50" y2="269.80" stroke="#333" stroke-width="0.6"/>
<text x="112.50" y="277.28" font-size="6.8" text-anchor="middle" font-weight="normal" fill="#2b2b2b" >C2D1</text>
<text x="82.40" y="286.08" font-size="6.8" text-anchor="middle" font-weight="normal" fill="#111" >Time point</text>
<text transform="translate(14.83,224.10) rotate(-90)" font-size="7.14" text-anchor="middle" fill="#111">Cell proportions</text>
<text x="35.00" y="173.80" font-size="8.0" fill="#111" textLength="57.0" lengthAdjust="spacingAndGlyphs">Early Myelocyte</text>
<line x1="53.30" y1="188.80" x2="84.90" y2="188.80" stroke="#111" stroke-width="1.5"/>
<circle cx="69.40" cy="185.30" r="0.85" fill="#111"/>
<g>
<text x="140.80" y="214.95" font-size="6.8" text-anchor="start" font-weight="normal" fill="#111" >RECIST</text>
<line x1="141.90" y1="224.20" x2="150.00" y2="224.20" stroke="#8db3f3" stroke-width="1.0"/>
<line x1="141.90" y1="234.20" x2="150.00" y2="234.20" stroke="#f29494" stroke-width="1.0"/>
<text x="154.40" y="226.21" font-size="5.44" text-anchor="start" font-weight="normal" fill="#111" >R</text>
<text x="154.40" y="236.21" font-size="5.44" text-anchor="start" font-weight="normal" fill="#111" >NR</text>
</g></g>
<g class="pt"><line x1="215.70" y1="219.60" x2="215.70" y2="232.10" stroke="#222" stroke-width="0.6"/>
<line x1="215.70" y1="255.60" x2="215.70" y2="262.40" stroke="#222" stroke-width="0.6"/>
<rect x="207.30" y="232.10" width="15.90" height="23.50" fill="none" stroke="#a8a8a8" stroke-width="0.65"/>
<line x1="207.30" y1="248.10" x2="223.20" y2="248.10" stroke="#a8a8a8" stroke-width="1.2"/>
<path d="M215.70,232.10H207.30V255.60H215.70" fill="none" stroke="#262626" stroke-width="0.65"/>
<line x1="207.30" y1="248.10" x2="215.70" y2="248.10" stroke="#111" stroke-width="1.3"/>
<line x1="248.40" y1="237.20" x2="248.40" y2="250.60" stroke="#222" stroke-width="0.6"/>
<line x1="248.40" y1="260.70" x2="248.40" y2="267.70" stroke="#222" stroke-width="0.6"/>
<rect x="240.40" y="250.60" width="16.40" height="10.10" fill="none" stroke="#a8a8a8" stroke-width="0.65"/>
<line x1="240.40" y1="254.00" x2="256.80" y2="254.00" stroke="#a8a8a8" stroke-width="1.2"/>
<path d="M248.40,250.60H256.80V260.70H248.40" fill="none" stroke="#262626" stroke-width="0.65"/>
<line x1="248.40" y1="254.00" x2="256.80" y2="254.00" stroke="#111" stroke-width="1.3"/>
<line x1="281.60" y1="241.90" x2="281.60" y2="245.60" stroke="#222" stroke-width="0.6"/>
<line x1="281.60" y1="255.60" x2="281.60" y2="262.40" stroke="#222" stroke-width="0.6"/>
<rect x="273.40" y="245.60" width="16.50" height="10.00" fill="none" stroke="#a8a8a8" stroke-width="0.65"/>
<line x1="273.40" y1="248.40" x2="289.90" y2="248.40" stroke="#a8a8a8" stroke-width="1.2"/>
<line x1="273.40" y1="248.40" x2="289.90" y2="248.40" stroke="#111" stroke-width="1.3"/>
<path d="M281.60,245.60H289.90V255.60H281.60" fill="none" stroke="#555" stroke-width="0.6"/>
<line x1="215.70" y1="184.71" x2="248.40" y2="230.25" stroke="#ee5c5c" stroke-width="0.68" stroke-opacity="0.92"/>
<line x1="215.70" y1="223.42" x2="248.40" y2="239.55" stroke="#5a90ee" stroke-width="0.68" stroke-opacity="0.92"/>
<line x1="215.70" y1="219.95" x2="248.40" y2="247.62" stroke="#ee5c5c" stroke-width="0.68" stroke-opacity="0.92"/>
<line x1="215.70" y1="221.56" x2="248.40" y2="254.44" stroke="#ee5c5c" stroke-width="0.68" stroke-opacity="0.92"/>
<line x1="215.70" y1="225.29" x2="248.40" y2="251.96" stroke="#ee5c5c" stroke-width="0.68" stroke-opacity="0.92"/>
<line x1="215.70" y1="227.15" x2="248.40" y2="259.40" stroke="#ee5c5c" stroke-width="0.68" stroke-opacity="0.92"/>
<line x1="215.70" y1="229.01" x2="248.40" y2="261.89" stroke="#ee5c5c" stroke-width="0.68" stroke-opacity="0.92"/>
<line x1="215.70" y1="230.87" x2="248.40" y2="256.92" stroke="#ee5c5c" stroke-width="0.68" stroke-opacity="0.92"/>
<line x1="215.70" y1="232.73" x2="248.40" y2="264.37" stroke="#ee5c5c" stroke-width="0.68" stroke-opacity="0.92"/>
<line x1="215.70" y1="237.07" x2="248.40" y2="266.85" stroke="#ee5c5c" stroke-width="0.68" stroke-opacity="0.92"/>
<line x1="215.70" y1="240.79" x2="248.40" y2="250.10" stroke="#ee5c5c" stroke-width="0.68" stroke-opacity="0.92"/>
<line x1="215.70" y1="247.62" x2="248.40" y2="245.14" stroke="#ee5c5c" stroke-width="0.68" stroke-opacity="0.92"/>
<line x1="215.70" y1="250.10" x2="248.40" y2="254.44" stroke="#5a90ee" stroke-width="0.68" stroke-opacity="0.92"/>
<line x1="215.70" y1="251.34" x2="248.40" y2="265.61" stroke="#5a90ee" stroke-width="0.68" stroke-opacity="0.92"/>
<line x1="215.70" y1="253.20" x2="248.40" y2="242.03" stroke="#ee5c5c" stroke-width="0.68" stroke-opacity="0.92"/>
<line x1="215.70" y1="255.06" x2="248.40" y2="268.09" stroke="#ee5c5c" stroke-width="0.68" stroke-opacity="0.92"/>
<line x1="215.70" y1="256.92" x2="248.40" y2="259.40" stroke="#ee5c5c" stroke-width="0.68" stroke-opacity="0.92"/>
<line x1="215.70" y1="258.78" x2="248.40" y2="249.48" stroke="#ee5c5c" stroke-width="0.68" stroke-opacity="0.92"/>
<line x1="215.70" y1="260.65" x2="248.40" y2="256.92" stroke="#ee5c5c" stroke-width="0.68" stroke-opacity="0.92"/>
<line x1="215.70" y1="261.89" x2="248.40" y2="266.85" stroke="#ee5c5c" stroke-width="0.68" stroke-opacity="0.92"/>
<line x1="215.70" y1="220.94" x2="248.40" y2="242.03" stroke="#ee5c5c" stroke-width="0.68" stroke-opacity="0.92"/>
<line x1="215.70" y1="222.80" x2="248.40" y2="245.14" stroke="#ee5c5c" stroke-width="0.68" stroke-opacity="0.92"/>
<line x1="215.70" y1="248.24" x2="248.40" y2="261.89" stroke="#ee5c5c" stroke-width="0.68" stroke-opacity="0.92"/>
<line x1="215.70" y1="254.44" x2="248.40" y2="251.96" stroke="#ee5c5c" stroke-width="0.68" stroke-opacity="0.92"/>
<line x1="215.70" y1="249.48" x2="248.40" y2="247.62" stroke="#ee5c5c" stroke-width="0.68" stroke-opacity="0.92"/>
<line x1="248.40" y1="237.32" x2="281.60" y2="229.88" stroke="#ee5c5c" stroke-width="0.68" stroke-opacity="0.92"/>
<line x1="248.40" y1="245.14" x2="281.60" y2="247.62" stroke="#ee5c5c" stroke-width="0.68" stroke-opacity="0.92"/>
<line x1="248.40" y1="247.62" x2="281.60" y2="256.92" stroke="#ee5c5c" stroke-width="0.68" stroke-opacity="0.92"/>
<line x1="248.40" y1="250.10" x2="281.60" y2="241.66" stroke="#ee5c5c" stroke-width="0.68" stroke-opacity="0.92"/>
<line x1="248.40" y1="254.44" x2="281.60" y2="247.00" stroke="#5a90ee" stroke-width="0.68" stroke-opacity="0.92"/>
<line x1="248.40" y1="256.92" x2="281.60" y2="261.89" stroke="#ee5c5c" stroke-width="0.68" stroke-opacity="0.92"/>
<line x1="248.40" y1="251.96" x2="281.60" y2="255.06" stroke="#ee5c5c" stroke-width="0.68" stroke-opacity="0.92"/>
<line x1="248.40" y1="242.03" x2="281.60" y2="248.24" stroke="#ee5c5c" stroke-width="0.68" stroke-opacity="0.92"/>
<circle cx="215.70" cy="184.71" r="0.95" fill="#000"/>
<circle cx="215.70" cy="219.95" r="0.95" fill="#000"/>
<circle cx="215.70" cy="221.56" r="0.95" fill="#000"/>
<circle cx="215.70" cy="223.42" r="0.95" fill="#000"/>
<circle cx="215.70" cy="225.29" r="0.95" fill="#000"/>
<circle cx="215.70" cy="227.15" r="0.95" fill="#000"/>
<circle cx="215.70" cy="229.01" r="0.95" fill="#000"/>
<circle cx="215.70" cy="230.87" r="0.95" fill="#000"/>
<circle cx="215.70" cy="232.73" r="0.95" fill="#000"/>
<circle cx="215.70" cy="237.07" r="0.95" fill="#000"/>
<circle cx="215.70" cy="240.79" r="0.95" fill="#000"/>
<circle cx="215.70" cy="247.62" r="0.95" fill="#000"/>
<circle cx="215.70" cy="249.48" r="0.95" fill="#000"/>
<circle cx="215.70" cy="251.34" r="0.95" fill="#000"/>
<circle cx="215.70" cy="253.20" r="0.95" fill="#000"/>
<circle cx="215.70" cy="255.06" r="0.95" fill="#000"/>
<circle cx="215.70" cy="256.92" r="0.95" fill="#000"/>
<circle cx="215.70" cy="258.78" r="0.95" fill="#000"/>
<circle cx="215.70" cy="260.65" r="0.95" fill="#000"/>
<circle cx="215.70" cy="261.89" r="0.95" fill="#000"/>
<circle cx="248.40" cy="230.25" r="0.95" fill="#000"/>
<circle cx="248.40" cy="237.32" r="0.95" fill="#000"/>
<circle cx="248.40" cy="239.55" r="0.95" fill="#000"/>
<circle cx="248.40" cy="242.03" r="0.95" fill="#000"/>
<circle cx="248.40" cy="245.14" r="0.95" fill="#000"/>
<circle cx="248.40" cy="247.62" r="0.95" fill="#000"/>
<circle cx="248.40" cy="250.10" r="0.95" fill="#000"/>
<circle cx="248.40" cy="251.96" r="0.95" fill="#000"/>
<circle cx="248.40" cy="254.44" r="0.95" fill="#000"/>
<circle cx="248.40" cy="256.92" r="0.95" fill="#000"/>
<circle cx="248.40" cy="259.40" r="0.95" fill="#000"/>
<circle cx="248.40" cy="261.89" r="0.95" fill="#000"/>
<circle cx="248.40" cy="264.37" r="0.95" fill="#000"/>
<circle cx="248.40" cy="266.85" r="0.95" fill="#000"/>
<circle cx="248.40" cy="268.09" r="0.95" fill="#000"/>
<circle cx="281.60" cy="229.88" r="0.95" fill="#000"/>
<circle cx="281.60" cy="241.66" r="0.95" fill="#000"/>
<circle cx="281.60" cy="247.00" r="0.95" fill="#000"/>
<circle cx="281.60" cy="248.24" r="0.95" fill="#000"/>
<circle cx="281.60" cy="255.06" r="0.95" fill="#000"/>
<circle cx="281.60" cy="261.89" r="0.95" fill="#000"/>
<path d="M195.90,180.90V270.80H300.80" fill="none" stroke="#333" stroke-width="0.75"/>
<line x1="194.30" y1="195.70" x2="195.90" y2="195.70" stroke="#333" stroke-width="0.6"/>
<text x="192.80" y="198.11" font-size="6.7" text-anchor="end" font-weight="normal" fill="#2b2b2b" >3</text>
<line x1="194.30" y1="220.40" x2="195.90" y2="220.40" stroke="#333" stroke-width="0.6"/>
<text x="192.80" y="222.81" font-size="6.7" text-anchor="end" font-weight="normal" fill="#2b2b2b" >2</text>
<line x1="194.30" y1="245.20" x2="195.90" y2="245.20" stroke="#333" stroke-width="0.6"/>
<text x="192.80" y="247.61" font-size="6.7" text-anchor="end" font-weight="normal" fill="#2b2b2b" >1</text>
<line x1="194.30" y1="270.30" x2="195.90" y2="270.30" stroke="#333" stroke-width="0.6"/>
<text x="192.80" y="272.71" font-size="6.7" text-anchor="end" font-weight="normal" fill="#2b2b2b" >0</text>
<line x1="215.70" y1="270.80" x2="215.70" y2="272.40" stroke="#333" stroke-width="0.6"/>
<text x="215.70" y="281.15" font-size="6.7" text-anchor="middle" font-weight="normal" fill="#2b2b2b" >Baseline</text>
<line x1="248.40" y1="270.80" x2="248.40" y2="272.40" stroke="#333" stroke-width="0.6"/>
<text x="248.40" y="281.15" font-size="6.7" text-anchor="middle" font-weight="normal" fill="#2b2b2b" >C1D1</text>
<line x1="281.60" y1="270.80" x2="281.60" y2="272.40" stroke="#333" stroke-width="0.6"/>
<text x="281.60" y="281.15" font-size="6.7" text-anchor="middle" font-weight="normal" fill="#2b2b2b" >C2D1</text>
<text x="248.40" y="289.35" font-size="6.7" text-anchor="middle" font-weight="normal" fill="#111" >Time point</text>
<text transform="translate(185.23,226.00) rotate(-90)" font-size="7.15" text-anchor="middle" fill="#111">Cell proportions</text>
<text x="196.00" y="176.00" font-size="7.95" fill="#111" textLength="15.9" lengthAdjust="spacingAndGlyphs">pDC</text>
<line x1="211.00" y1="181.30" x2="243.40" y2="181.30" stroke="#111" stroke-width="1.5"/>
<circle cx="224.90" cy="174.70" r="0.85" fill="#111"/>
<g>
<text x="311.80" y="217.01" font-size="6.7" text-anchor="start" font-weight="normal" fill="#111" >RECIST</text>
<line x1="312.88" y1="226.40" x2="320.86" y2="226.40" stroke="#8db3f3" stroke-width="1.0"/>
<line x1="312.88" y1="236.60" x2="320.86" y2="236.60" stroke="#f29494" stroke-width="1.0"/>
<text x="325.20" y="228.38" font-size="5.36" text-anchor="start" font-weight="normal" fill="#111" >R</text>
<text x="325.20" y="238.58" font-size="5.36" text-anchor="start" font-weight="normal" fill="#111" >NR</text>
</g></g>
<g class="pt"><line x1="392.30" y1="181.00" x2="392.30" y2="218.30" stroke="#222" stroke-width="0.6"/>
<line x1="392.30" y1="244.50" x2="392.30" y2="264.90" stroke="#222" stroke-width="0.6"/>
<rect x="384.30" y="218.30" width="16.00" height="26.20" fill="none" stroke="#a8a8a8" stroke-width="0.65"/>
<line x1="384.30" y1="230.40" x2="400.30" y2="230.40" stroke="#a8a8a8" stroke-width="1.2"/>
<path d="M392.30,218.30H384.30V244.50H392.30" fill="none" stroke="#262626" stroke-width="0.65"/>
<line x1="384.30" y1="230.40" x2="392.30" y2="230.40" stroke="#111" stroke-width="1.3"/>
<line x1="423.20" y1="215.10" x2="423.20" y2="228.40" stroke="#222" stroke-width="0.6"/>
<line x1="423.20" y1="251.70" x2="423.20" y2="267.00" stroke="#222" stroke-width="0.6"/>
<rect x="416.00" y="228.40" width="15.60" height="23.30" fill="none" stroke="#a8a8a8" stroke-width="0.65"/>
<line x1="416.00" y1="242.40" x2="431.60" y2="242.40" stroke="#a8a8a8" stroke-width="1.2"/>
<path d="M423.20,228.40H431.60V251.70H423.20" fill="none" stroke="#262626" stroke-width="0.65"/>
<line x1="423.20" y1="242.40" x2="431.60" y2="242.40" stroke="#111" stroke-width="1.3"/>
<line x1="454.50" y1="205.50" x2="454.50" y2="217.20" stroke="#222" stroke-width="0.6"/>
<line x1="454.50" y1="234.00" x2="454.50" y2="238.50" stroke="#222" stroke-width="0.6"/>
<rect x="446.60" y="217.20" width="16.00" height="16.80" fill="none" stroke="#a8a8a8" stroke-width="0.65"/>
<line x1="446.60" y1="225.20" x2="462.60" y2="225.20" stroke="#a8a8a8" stroke-width="1.2"/>
<line x1="446.60" y1="225.20" x2="462.60" y2="225.20" stroke="#111" stroke-width="1.3"/>
<path d="M454.50,217.20H462.60V234.00H454.50" fill="none" stroke="#555" stroke-width="0.6"/>
<line x1="392.30" y1="177.85" x2="423.20" y2="182.40" stroke="#ee5c5c" stroke-width="0.68" stroke-opacity="0.92"/>
<line x1="392.30" y1="181.75" x2="423.20" y2="182.40" stroke="#ee5c5c" stroke-width="0.68" stroke-opacity="0.92"/>
<line x1="392.30" y1="190.20" x2="423.20" y2="229.19" stroke="#ee5c5c" stroke-width="0.68" stroke-opacity="0.92"/>
<line x1="392.30" y1="196.69" x2="423.20" y2="214.89" stroke="#ee5c5c" stroke-width="0.68" stroke-opacity="0.92"/>
<line x1="392.30" y1="201.63" x2="423.20" y2="223.99" stroke="#ee5c5c" stroke-width="0.68" stroke-opacity="0.92"/>
<line x1="392.30" y1="216.84" x2="423.20" y2="234.39" stroke="#ee5c5c" stroke-width="0.68" stroke-opacity="0.92"/>
<line x1="392.30" y1="219.44" x2="423.20" y2="239.59" stroke="#ee5c5c" stroke-width="0.68" stroke-opacity="0.92"/>
<line x1="392.30" y1="221.39" x2="423.20" y2="226.59" stroke="#ee5c5c" stroke-width="0.68" stroke-opacity="0.92"/>
<line x1="392.30" y1="223.99" x2="423.20" y2="225.29" stroke="#5a90ee" stroke-width="0.68" stroke-opacity="0.92"/>
<line x1="392.30" y1="226.59" x2="423.20" y2="244.78" stroke="#ee5c5c" stroke-width="0.68" stroke-opacity="0.92"/>
<line x1="392.30" y1="229.19" x2="423.20" y2="236.99" stroke="#ee5c5c" stroke-width="0.68" stroke-opacity="0.92"/>
<line x1="392.30" y1="231.79" x2="423.20" y2="249.98" stroke="#ee5c5c" stroke-width="0.68" stroke-opacity="0.92"/>
<line x1="392.30" y1="234.39" x2="423.20" y2="231.79" stroke="#ee5c5c" stroke-width="0.68" stroke-opacity="0.92"/>
<line x1="392.30" y1="236.99" x2="423.20" y2="255.18" stroke="#ee5c5c" stroke-width="0.68" stroke-opacity="0.92"/>
<line x1="392.30" y1="237.64" x2="423.20" y2="248.68" stroke="#5a90ee" stroke-width="0.68" stroke-opacity="0.92"/>
<line x1="392.30" y1="239.59" x2="423.20" y2="247.38" stroke="#5a90ee" stroke-width="0.68" stroke-opacity="0.92"/>
<line x1="392.30" y1="242.18" x2="423.20" y2="257.78" stroke="#ee5c5c" stroke-width="0.68" stroke-opacity="0.92"/>
<line x1="392.30" y1="244.78" x2="423.20" y2="242.18" stroke="#ee5c5c" stroke-width="0.68" stroke-opacity="0.92"/>
<line x1="392.30" y1="247.38" x2="423.20" y2="262.98" stroke="#ee5c5c" stroke-width="0.68" stroke-opacity="0.92"/>
<line x1="392.30" y1="249.98" x2="423.20" y2="252.58" stroke="#ee5c5c" stroke-width="0.68" stroke-opacity="0.92"/>
<line x1="392.30" y1="252.58" x2="423.20" y2="260.38" stroke="#ee5c5c" stroke-width="0.68" stroke-opacity="0.92"/>
<line x1="392.30" y1="255.18" x2="423.20" y2="244.78" stroke="#ee5c5c" stroke-width="0.68" stroke-opacity="0.92"/>
<line x1="392.30" y1="257.78" x2="423.20" y2="266.88" stroke="#ee5c5c" stroke-width="0.68" stroke-opacity="0.92"/>
<line x1="392.30" y1="261.68" x2="423.20" y2="249.98" stroke="#ee5c5c" stroke-width="0.68" stroke-opacity="0.92"/>
<line x1="392.30" y1="264.93" x2="423.20" y2="255.18" stroke="#ee5c5c" stroke-width="0.68" stroke-opacity="0.92"/>
<line x1="392.30" y1="217.49" x2="423.20" y2="242.18" stroke="#ee5c5c" stroke-width="0.68" stroke-opacity="0.92"/>
<line x1="392.30" y1="220.09" x2="423.20" y2="252.58" stroke="#ee5c5c" stroke-width="0.68" stroke-opacity="0.92"/>
<line x1="392.30" y1="233.09" x2="423.20" y2="262.98" stroke="#ee5c5c" stroke-width="0.68" stroke-opacity="0.92"/>
<line x1="423.20" y1="182.40" x2="454.50" y2="179.15" stroke="#ee5c5c" stroke-width="0.68" stroke-opacity="0.92"/>
<line x1="423.20" y1="182.40" x2="454.50" y2="225.29" stroke="#ee5c5c" stroke-width="0.68" stroke-opacity="0.92"/>
<line x1="423.20" y1="214.89" x2="454.50" y2="223.34" stroke="#ee5c5c" stroke-width="0.68" stroke-opacity="0.92"/>
<line x1="423.20" y1="229.19" x2="454.50" y2="205.53" stroke="#ee5c5c" stroke-width="0.68" stroke-opacity="0.92"/>
<line x1="423.20" y1="233.09" x2="454.50" y2="221.39" stroke="#ee5c5c" stroke-width="0.68" stroke-opacity="0.92"/>
<line x1="423.20" y1="236.99" x2="454.50" y2="225.29" stroke="#ee5c5c" stroke-width="0.68" stroke-opacity="0.92"/>
<line x1="423.20" y1="239.59" x2="454.50" y2="232.44" stroke="#ee5c5c" stroke-width="0.68" stroke-opacity="0.92"/>
<line x1="423.20" y1="234.39" x2="454.50" y2="238.29" stroke="#ee5c5c" stroke-width="0.68" stroke-opacity="0.92"/>
<line x1="423.20" y1="248.68" x2="454.50" y2="259.08" stroke="#5a90ee" stroke-width="0.68" stroke-opacity="0.92"/>
<circle cx="392.30" cy="177.85" r="0.95" fill="#000"/>
<circle cx="392.30" cy="181.75" r="0.95" fill="#000"/>
<circle cx="392.30" cy="190.20" r="0.95" fill="#000"/>
<circle cx="392.30" cy="196.69" r="0.95" fill="#000"/>
<circle cx="392.30" cy="201.63" r="0.95" fill="#000"/>
<circle cx="392.30" cy="216.84" r="0.95" fill="#000"/>
<circle cx="392.30" cy="219.44" r="0.95" fill="#000"/>
<circle cx="392.30" cy="221.39" r="0.95" fill="#000"/>
<circle cx="392.30" cy="223.99" r="0.95" fill="#000"/>
<circle cx="392.30" cy="226.59" r="0.95" fill="#000"/>
<circle cx="392.30" cy="229.19" r="0.95" fill="#000"/>
<circle cx="392.30" cy="231.79" r="0.95" fill="#000"/>
<circle cx="392.30" cy="234.39" r="0.95" fill="#000"/>
<circle cx="392.30" cy="236.99" r="0.95" fill="#000"/>
<circle cx="392.30" cy="237.64" r="0.95" fill="#000"/>
<circle cx="392.30" cy="239.59" r="0.95" fill="#000"/>
<circle cx="392.30" cy="242.18" r="0.95" fill="#000"/>
<circle cx="392.30" cy="244.78" r="0.95" fill="#000"/>
<circle cx="392.30" cy="247.38" r="0.95" fill="#000"/>
<circle cx="392.30" cy="249.98" r="0.95" fill="#000"/>
<circle cx="392.30" cy="252.58" r="0.95" fill="#000"/>
<circle cx="392.30" cy="255.18" r="0.95" fill="#000"/>
<circle cx="392.30" cy="257.78" r="0.95" fill="#000"/>
<circle cx="392.30" cy="261.68" r="0.95" fill="#000"/>
<circle cx="392.30" cy="264.93" r="0.95" fill="#000"/>
<circle cx="423.20" cy="182.40" r="0.95" fill="#000"/>
<circle cx="423.20" cy="214.89" r="0.95" fill="#000"/>
<circle cx="423.20" cy="223.99" r="0.95" fill="#000"/>
<circle cx="423.20" cy="226.59" r="0.95" fill="#000"/>
<circle cx="423.20" cy="229.19" r="0.95" fill="#000"/>
<circle cx="423.20" cy="231.79" r="0.95" fill="#000"/>
<circle cx="423.20" cy="234.39" r="0.95" fill="#000"/>
<circle cx="423.20" cy="236.99" r="0.95" fill="#000"/>
<circle cx="423.20" cy="239.59" r="0.95" fill="#000"/>
<circle cx="423.20" cy="242.18" r="0.95" fill="#000"/>
<circle cx="423.20" cy="244.78" r="0.95" fill="#000"/>
<circle cx="423.20" cy="247.38" r="0.95" fill="#000"/>
<circle cx="423.20" cy="248.68" r="0.95" fill="#000"/>
<circle cx="423.20" cy="249.98" r="0.95" fill="#000"/>
<circle cx="423.20" cy="252.58" r="0.95" fill="#000"/>
<circle cx="423.20" cy="255.18" r="0.95" fill="#000"/>
<circle cx="423.20" cy="257.78" r="0.95" fill="#000"/>
<circle cx="423.20" cy="260.38" r="0.95" fill="#000"/>
<circle cx="423.20" cy="262.98" r="0.95" fill="#000"/>
<circle cx="423.20" cy="266.88" r="0.95" fill="#000"/>
<circle cx="454.50" cy="179.15" r="0.95" fill="#000"/>
<circle cx="454.50" cy="205.53" r="0.95" fill="#000"/>
<circle cx="454.50" cy="221.39" r="0.95" fill="#000"/>
<circle cx="454.50" cy="225.29" r="0.95" fill="#000"/>
<circle cx="454.50" cy="232.44" r="0.95" fill="#000"/>
<circle cx="454.50" cy="238.29" r="0.95" fill="#000"/>
<circle cx="454.50" cy="259.08" r="0.95" fill="#000"/>
<path d="M373.40,173.90V271.00H472.30" fill="none" stroke="#333" stroke-width="0.75"/>
<line x1="371.80" y1="176.60" x2="373.40" y2="176.60" stroke="#333" stroke-width="0.6"/>
<text x="370.30" y="179.10" font-size="6.95" text-anchor="end" font-weight="normal" fill="#2b2b2b" >2.5</text>
<line x1="371.80" y1="195.20" x2="373.40" y2="195.20" stroke="#333" stroke-width="0.6"/>
<text x="370.30" y="197.70" font-size="6.95" text-anchor="end" font-weight="normal" fill="#2b2b2b" >2.0</text>
<line x1="371.80" y1="213.50" x2="373.40" y2="213.50" stroke="#333" stroke-width="0.6"/>
<text x="370.30" y="216.00" font-size="6.95" text-anchor="end" font-weight="normal" fill="#2b2b2b" >1.5</text>
<line x1="371.80" y1="232.10" x2="373.40" y2="232.10" stroke="#333" stroke-width="0.6"/>
<text x="370.30" y="234.60" font-size="6.95" text-anchor="end" font-weight="normal" fill="#2b2b2b" >1.0</text>
<line x1="371.80" y1="250.40" x2="373.40" y2="250.40" stroke="#333" stroke-width="0.6"/>
<text x="370.30" y="252.90" font-size="6.95" text-anchor="end" font-weight="normal" fill="#2b2b2b" >0.5</text>
<line x1="371.80" y1="269.40" x2="373.40" y2="269.40" stroke="#333" stroke-width="0.6"/>
<text x="370.30" y="271.90" font-size="6.95" text-anchor="end" font-weight="normal" fill="#2b2b2b" >0.0</text>
<line x1="392.30" y1="271.00" x2="392.30" y2="272.60" stroke="#333" stroke-width="0.6"/>
<text x="392.30" y="280.83" font-size="6.65" text-anchor="middle" font-weight="normal" fill="#2b2b2b" >Baseline</text>
<line x1="423.20" y1="271.00" x2="423.20" y2="272.60" stroke="#333" stroke-width="0.6"/>
<text x="423.20" y="280.83" font-size="6.65" text-anchor="middle" font-weight="normal" fill="#2b2b2b" >C1D1</text>
<line x1="454.50" y1="271.00" x2="454.50" y2="272.60" stroke="#333" stroke-width="0.6"/>
<text x="454.50" y="280.83" font-size="6.65" text-anchor="middle" font-weight="normal" fill="#2b2b2b" >C2D1</text>
<text x="423.20" y="289.23" font-size="6.65" text-anchor="middle" font-weight="normal" fill="#111" >Time point</text>
<text transform="translate(357.71,222.40) rotate(-90)" font-size="7.6" text-anchor="middle" fill="#111">Cell proportions</text>
<text x="373.70" y="168.30" font-size="8.0" fill="#111" textLength="19.9" lengthAdjust="spacingAndGlyphs">cDC2</text>
<line x1="391.50" y1="177.40" x2="423.60" y2="177.40" stroke="#111" stroke-width="1.5"/>
<circle cx="407.60" cy="172.20" r="0.85" fill="#111"/>
<clipPath id="clp3"><rect x="481.6" y="202.2" width="23.0" height="40"/></clipPath>
<g clip-path="url(#clp3)">
<text x="483.60" y="212.59" font-size="6.65" text-anchor="start" font-weight="normal" fill="#111" >RECIST</text>
<line x1="484.68" y1="223.00" x2="492.60" y2="223.00" stroke="#8db3f3" stroke-width="1.0"/>
<line x1="484.68" y1="233.10" x2="492.60" y2="233.10" stroke="#f29494" stroke-width="1.0"/>
<text x="496.90" y="224.97" font-size="5.32" text-anchor="start" font-weight="normal" fill="#111" >R</text>
<text x="496.90" y="235.07" font-size="5.32" text-anchor="start" font-weight="normal" fill="#111" >NR</text>
</g></g>
<g class="pt"><line x1="544.90" y1="220.40" x2="544.90" y2="231.20" stroke="#222" stroke-width="0.6"/>
<line x1="544.90" y1="248.20" x2="544.90" y2="263.30" stroke="#222" stroke-width="0.6"/>
<rect x="537.20" y="231.20" width="15.40" height="17.00" fill="none" stroke="#a8a8a8" stroke-width="0.65"/>
<line x1="537.20" y1="241.30" x2="552.60" y2="241.30" stroke="#a8a8a8" stroke-width="1.2"/>
<path d="M544.90,231.20H537.20V248.20H544.90" fill="none" stroke="#262626" stroke-width="0.65"/>
<line x1="537.20" y1="241.30" x2="544.90" y2="241.30" stroke="#111" stroke-width="1.3"/>
<line x1="575.40" y1="189.10" x2="575.40" y2="204.30" stroke="#222" stroke-width="0.6"/>
<line x1="575.40" y1="247.70" x2="575.40" y2="266.50" stroke="#222" stroke-width="0.6"/>
<rect x="567.70" y="204.30" width="14.90" height="43.40" fill="none" stroke="#a8a8a8" stroke-width="0.65"/>
<line x1="567.70" y1="226.30" x2="582.60" y2="226.30" stroke="#a8a8a8" stroke-width="1.2"/>
<path d="M575.40,204.30H582.60V247.70H575.40" fill="none" stroke="#262626" stroke-width="0.65"/>
<line x1="575.40" y1="226.30" x2="582.60" y2="226.30" stroke="#111" stroke-width="1.3"/>
<line x1="606.20" y1="193.90" x2="606.20" y2="204.00" stroke="#222" stroke-width="0.6"/>
<line x1="606.20" y1="241.30" x2="606.20" y2="248.80" stroke="#222" stroke-width="0.6"/>
<rect x="598.70" y="204.00" width="15.20" height="37.30" fill="none" stroke="#a8a8a8" stroke-width="0.65"/>
<line x1="598.70" y1="222.30" x2="613.90" y2="222.30" stroke="#a8a8a8" stroke-width="1.2"/>
<line x1="598.70" y1="222.30" x2="613.90" y2="222.30" stroke="#111" stroke-width="1.3"/>
<path d="M606.20,204.00H613.90V241.30H606.20" fill="none" stroke="#555" stroke-width="0.6"/>
<line x1="544.90" y1="176.63" x2="575.40" y2="189.23" stroke="#ee5c5c" stroke-width="0.68" stroke-opacity="0.92"/>
<line x1="544.90" y1="177.69" x2="575.40" y2="191.22" stroke="#ee5c5c" stroke-width="0.68" stroke-opacity="0.92"/>
<line x1="544.90" y1="192.81" x2="575.40" y2="191.88" stroke="#ee5c5c" stroke-width="0.68" stroke-opacity="0.92"/>
<line x1="544.90" y1="221.05" x2="575.40" y2="206.47" stroke="#ee5c5c" stroke-width="0.68" stroke-opacity="0.92"/>
<line x1="544.90" y1="223.04" x2="575.40" y2="209.78" stroke="#ee5c5c" stroke-width="0.68" stroke-opacity="0.92"/>
<line x1="544.90" y1="225.70" x2="575.40" y2="202.49" stroke="#5a90ee" stroke-width="0.68" stroke-opacity="0.92"/>
<line x1="544.90" y1="228.35" x2="575.40" y2="204.48" stroke="#ee5c5c" stroke-width="0.68" stroke-opacity="0.92"/>
<line x1="544.90" y1="231.00" x2="575.40" y2="203.82" stroke="#ee5c5c" stroke-width="0.68" stroke-opacity="0.92"/>
<line x1="544.90" y1="233.65" x2="575.40" y2="205.80" stroke="#ee5c5c" stroke-width="0.68" stroke-opacity="0.92"/>
<line x1="544.90" y1="236.30" x2="575.40" y2="208.46" stroke="#ee5c5c" stroke-width="0.68" stroke-opacity="0.92"/>
<line x1="544.90" y1="237.63" x2="575.40" y2="239.62" stroke="#5a90ee" stroke-width="0.68" stroke-opacity="0.92"/>
<line x1="544.90" y1="238.96" x2="575.40" y2="203.15" stroke="#ee5c5c" stroke-width="0.68" stroke-opacity="0.92"/>
<line x1="544.90" y1="241.61" x2="575.40" y2="213.10" stroke="#ee5c5c" stroke-width="0.68" stroke-opacity="0.92"/>
<line x1="544.90" y1="244.26" x2="575.40" y2="205.14" stroke="#ee5c5c" stroke-width="0.68" stroke-opacity="0.92"/>
<line x1="544.90" y1="246.91" x2="575.40" y2="229.01" stroke="#ee5c5c" stroke-width="0.68" stroke-opacity="0.92"/>
<line x1="544.90" y1="249.57" x2="575.40" y2="221.05" stroke="#ee5c5c" stroke-width="0.68" stroke-opacity="0.92"/>
<line x1="544.90" y1="252.22" x2="575.40" y2="231.66" stroke="#ee5c5c" stroke-width="0.68" stroke-opacity="0.92"/>
<line x1="544.90" y1="255.53" x2="575.40" y2="246.91" stroke="#ee5c5c" stroke-width="0.68" stroke-opacity="0.92"/>
<line x1="544.90" y1="258.18" x2="575.40" y2="249.57" stroke="#ee5c5c" stroke-width="0.68" stroke-opacity="0.92"/>
<line x1="544.90" y1="261.50" x2="575.40" y2="252.22" stroke="#ee5c5c" stroke-width="0.68" stroke-opacity="0.92"/>
<line x1="544.90" y1="262.83" x2="575.40" y2="266.14" stroke="#5a90ee" stroke-width="0.68" stroke-opacity="0.92"/>
<line x1="544.90" y1="261.50" x2="575.40" y2="254.87" stroke="#ee5c5c" stroke-width="0.68" stroke-opacity="0.92"/>
<line x1="544.90" y1="246.91" x2="575.40" y2="233.65" stroke="#ee5c5c" stroke-width="0.68" stroke-opacity="0.92"/>
<line x1="544.90" y1="244.26" x2="575.40" y2="236.30" stroke="#ee5c5c" stroke-width="0.68" stroke-opacity="0.92"/>
<line x1="544.90" y1="238.96" x2="575.40" y2="249.57" stroke="#ee5c5c" stroke-width="0.68" stroke-opacity="0.92"/>
<line x1="544.90" y1="232.33" x2="575.40" y2="207.13" stroke="#ee5c5c" stroke-width="0.68" stroke-opacity="0.92"/>
<line x1="544.90" y1="229.67" x2="575.40" y2="203.15" stroke="#ee5c5c" stroke-width="0.68" stroke-opacity="0.92"/>
<line x1="544.90" y1="240.28" x2="575.40" y2="204.48" stroke="#ee5c5c" stroke-width="0.68" stroke-opacity="0.92"/>
<line x1="544.90" y1="234.98" x2="575.40" y2="226.36" stroke="#ee5c5c" stroke-width="0.68" stroke-opacity="0.92"/>
<line x1="544.90" y1="254.87" x2="575.40" y2="257.52" stroke="#ee5c5c" stroke-width="0.68" stroke-opacity="0.92"/>
<line x1="544.90" y1="249.57" x2="575.40" y2="260.17" stroke="#ee5c5c" stroke-width="0.68" stroke-opacity="0.92"/>
<line x1="575.40" y1="189.23" x2="606.20" y2="248.90" stroke="#ee5c5c" stroke-width="0.68" stroke-opacity="0.92"/>
<line x1="575.40" y1="202.49" x2="606.20" y2="202.49" stroke="#ee5c5c" stroke-width="0.68" stroke-opacity="0.92"/>
<line x1="575.40" y1="207.13" x2="606.20" y2="193.87" stroke="#ee5c5c" stroke-width="0.68" stroke-opacity="0.92"/>
<line x1="575.40" y1="226.36" x2="606.20" y2="205.14" stroke="#ee5c5c" stroke-width="0.68" stroke-opacity="0.92"/>
<line x1="575.40" y1="236.30" x2="606.20" y2="248.90" stroke="#ee5c5c" stroke-width="0.68" stroke-opacity="0.92"/>
<line x1="575.40" y1="246.91" x2="606.20" y2="202.49" stroke="#ee5c5c" stroke-width="0.68" stroke-opacity="0.92"/>
<line x1="575.40" y1="254.87" x2="606.20" y2="240.95" stroke="#ee5c5c" stroke-width="0.68" stroke-opacity="0.92"/>
<line x1="575.40" y1="260.17" x2="606.20" y2="243.60" stroke="#ee5c5c" stroke-width="0.68" stroke-opacity="0.92"/>
<line x1="575.40" y1="266.14" x2="606.20" y2="240.95" stroke="#5a90ee" stroke-width="0.68" stroke-opacity="0.92"/>
<line x1="575.40" y1="229.01" x2="606.20" y2="227.02" stroke="#ee5c5c" stroke-width="0.68" stroke-opacity="0.92"/>
<line x1="575.40" y1="221.05" x2="606.20" y2="218.80" stroke="#ee5c5c" stroke-width="0.68" stroke-opacity="0.92"/>
<circle cx="544.90" cy="176.63" r="0.95" fill="#000"/>
<circle cx="544.90" cy="177.69" r="0.95" fill="#000"/>
<circle cx="544.90" cy="192.81" r="0.95" fill="#000"/>
<circle cx="544.90" cy="221.05" r="0.95" fill="#000"/>
<circle cx="544.90" cy="223.04" r="0.95" fill="#000"/>
<circle cx="544.90" cy="225.70" r="0.95" fill="#000"/>
<circle cx="544.90" cy="228.35" r="0.95" fill="#000"/>
<circle cx="544.90" cy="231.00" r="0.95" fill="#000"/>
<circle cx="544.90" cy="233.65" r="0.95" fill="#000"/>
<circle cx="544.90" cy="236.30" r="0.95" fill="#000"/>
<circle cx="544.90" cy="237.63" r="0.95" fill="#000"/>
<circle cx="544.90" cy="238.96" r="0.95" fill="#000"/>
<circle cx="544.90" cy="241.61" r="0.95" fill="#000"/>
<circle cx="544.90" cy="244.26" r="0.95" fill="#000"/>
<circle cx="544.90" cy="246.91" r="0.95" fill="#000"/>
<circle cx="544.90" cy="249.57" r="0.95" fill="#000"/>
<circle cx="544.90" cy="252.22" r="0.95" fill="#000"/>
<circle cx="544.90" cy="255.53" r="0.95" fill="#000"/>
<circle cx="544.90" cy="258.18" r="0.95" fill="#000"/>
<circle cx="544.90" cy="261.50" r="0.95" fill="#000"/>
<circle cx="544.90" cy="262.83" r="0.95" fill="#000"/>
<circle cx="575.40" cy="189.23" r="0.95" fill="#000"/>
<circle cx="575.40" cy="191.22" r="0.95" fill="#000"/>
<circle cx="575.40" cy="202.49" r="0.95" fill="#000"/>
<circle cx="575.40" cy="204.48" r="0.95" fill="#000"/>
<circle cx="575.40" cy="206.47" r="0.95" fill="#000"/>
<circle cx="575.40" cy="209.12" r="0.95" fill="#000"/>
<circle cx="575.40" cy="213.10" r="0.95" fill="#000"/>
<circle cx="575.40" cy="221.05" r="0.95" fill="#000"/>
<circle cx="575.40" cy="226.36" r="0.95" fill="#000"/>
<circle cx="575.40" cy="229.01" r="0.95" fill="#000"/>
<circle cx="575.40" cy="231.66" r="0.95" fill="#000"/>
<circle cx="575.40" cy="233.65" r="0.95" fill="#000"/>
<circle cx="575.40" cy="236.30" r="0.95" fill="#000"/>
<circle cx="575.40" cy="239.62" r="0.95" fill="#000"/>
<circle cx="575.40" cy="246.91" r="0.95" fill="#000"/>
<circle cx="575.40" cy="249.57" r="0.95" fill="#000"/>
<circle cx="575.40" cy="252.22" r="0.95" fill="#000"/>
<circle cx="575.40" cy="254.87" r="0.95" fill="#000"/>
<circle cx="575.40" cy="257.52" r="0.95" fill="#000"/>
<circle cx="575.40" cy="260.17" r="0.95" fill="#000"/>
<circle cx="575.40" cy="266.14" r="0.95" fill="#000"/>
<circle cx="606.20" cy="193.87" r="0.95" fill="#000"/>
<circle cx="606.20" cy="202.49" r="0.95" fill="#000"/>
<circle cx="606.20" cy="205.14" r="0.95" fill="#000"/>
<circle cx="606.20" cy="218.80" r="0.95" fill="#000"/>
<circle cx="606.20" cy="227.02" r="0.95" fill="#000"/>
<circle cx="606.20" cy="240.95" r="0.95" fill="#000"/>
<circle cx="606.20" cy="243.60" r="0.95" fill="#000"/>
<circle cx="606.20" cy="248.90" r="0.95" fill="#000"/>
<path d="M526.60,172.60V270.50H624.50" fill="none" stroke="#333" stroke-width="0.75"/>
<line x1="525.00" y1="186.40" x2="526.60" y2="186.40" stroke="#333" stroke-width="0.6"/>
<text x="523.50" y="188.74" font-size="6.5" text-anchor="end" font-weight="normal" fill="#2b2b2b" >60</text>
<line x1="525.00" y1="217.50" x2="526.60" y2="217.50" stroke="#333" stroke-width="0.6"/>
<text x="523.50" y="219.84" font-size="6.5" text-anchor="end" font-weight="normal" fill="#2b2b2b" >40</text>
<line x1="525.00" y1="249.30" x2="526.60" y2="249.30" stroke="#333" stroke-width="0.6"/>
<text x="523.50" y="251.64" font-size="6.5" text-anchor="end" font-weight="normal" fill="#2b2b2b" >20</text>
<line x1="544.90" y1="270.50" x2="544.90" y2="272.10" stroke="#333" stroke-width="0.6"/>
<text x="544.90" y="280.47" font-size="6.5" text-anchor="middle" font-weight="normal" fill="#2b2b2b" >Baseline</text>
<line x1="575.40" y1="270.50" x2="575.40" y2="272.10" stroke="#333" stroke-width="0.6"/>
<text x="575.40" y="280.47" font-size="6.5" text-anchor="middle" font-weight="normal" fill="#2b2b2b" >C1D1</text>
<line x1="606.20" y1="270.50" x2="606.20" y2="272.10" stroke="#333" stroke-width="0.6"/>
<text x="606.20" y="280.47" font-size="6.5" text-anchor="middle" font-weight="normal" fill="#2b2b2b" >C2D1</text>
<text x="575.40" y="288.97" font-size="6.5" text-anchor="middle" font-weight="normal" fill="#111" >Time point</text>
<text transform="translate(513.44,222.20) rotate(-90)" font-size="7.65" text-anchor="middle" fill="#111">Cell proportions</text>
<text x="526.80" y="168.10" font-size="7.87" fill="#111" textLength="78.3" lengthAdjust="spacingAndGlyphs">preDC/Classical Mono</text>
<line x1="544.10" y1="175.90" x2="576.20" y2="175.90" stroke="#111" stroke-width="1.5"/>
<circle cx="560.50" cy="171.50" r="0.85" fill="#111"/>
<g>
<text x="634.50" y="211.74" font-size="6.5" text-anchor="start" font-weight="normal" fill="#111" >RECIST</text>
<line x1="635.55" y1="222.50" x2="643.29" y2="222.50" stroke="#8db3f3" stroke-width="1.0"/>
<line x1="635.55" y1="233.50" x2="643.29" y2="233.50" stroke="#f29494" stroke-width="1.0"/>
<text x="647.50" y="224.42" font-size="5.2" text-anchor="start" font-weight="normal" fill="#111" >R</text>
<text x="647.50" y="235.42" font-size="5.2" text-anchor="start" font-weight="normal" fill="#111" >NR</text>
</g></g>
<g class="pt"><line x1="43.30" y1="387.20" x2="43.30" y2="396.30" stroke="#222" stroke-width="0.6"/>
<line x1="43.30" y1="418.50" x2="43.30" y2="432.50" stroke="#222" stroke-width="0.6"/>
<rect x="35.30" y="396.30" width="16.00" height="22.20" fill="none" stroke="#a8a8a8" stroke-width="0.65"/>
<line x1="35.30" y1="409.40" x2="51.30" y2="409.40" stroke="#a8a8a8" stroke-width="1.2"/>
<path d="M43.30,396.30H35.30V418.50H43.30" fill="none" stroke="#262626" stroke-width="0.65"/>
<line x1="35.30" y1="409.40" x2="43.30" y2="409.40" stroke="#111" stroke-width="1.3"/>
<line x1="74.90" y1="377.60" x2="74.90" y2="391.20" stroke="#222" stroke-width="0.6"/>
<line x1="74.90" y1="415.30" x2="74.90" y2="423.00" stroke="#222" stroke-width="0.6"/>
<rect x="66.60" y="391.20" width="16.00" height="24.10" fill="none" stroke="#a8a8a8" stroke-width="0.65"/>
<line x1="66.60" y1="405.20" x2="82.60" y2="405.20" stroke="#a8a8a8" stroke-width="1.2"/>
<path d="M74.90,391.20H82.60V415.30H74.90" fill="none" stroke="#262626" stroke-width="0.65"/>
<line x1="74.90" y1="405.20" x2="82.60" y2="405.20" stroke="#111" stroke-width="1.3"/>
<line x1="106.80" y1="396.30" x2="106.80" y2="396.30" stroke="#222" stroke-width="0.6"/>
<line x1="106.80" y1="410.20" x2="106.80" y2="410.20" stroke="#222" stroke-width="0.6"/>
<rect x="98.70" y="396.30" width="16.50" height="13.90" fill="none" stroke="#a8a8a8" stroke-width="0.65"/>
<line x1="98.70" y1="402.10" x2="115.20" y2="402.10" stroke="#a8a8a8" stroke-width="1.2"/>
<line x1="98.70" y1="402.10" x2="115.20" y2="402.10" stroke="#111" stroke-width="1.3"/>
<path d="M106.80,396.30H115.20V410.20H106.80" fill="none" stroke="#555" stroke-width="0.6"/>
<line x1="43.30" y1="387.40" x2="74.90" y2="380.11" stroke="#ee5c5c" stroke-width="0.68" stroke-opacity="0.92"/>
<line x1="43.30" y1="389.39" x2="74.90" y2="378.12" stroke="#ee5c5c" stroke-width="0.68" stroke-opacity="0.92"/>
<line x1="43.30" y1="391.38" x2="74.90" y2="382.10" stroke="#ee5c5c" stroke-width="0.68" stroke-opacity="0.92"/>
<line x1="43.30" y1="393.37" x2="74.90" y2="384.09" stroke="#ee5c5c" stroke-width="0.68" stroke-opacity="0.92"/>
<line x1="43.30" y1="395.36" x2="74.90" y2="392.71" stroke="#5a90ee" stroke-width="0.68" stroke-opacity="0.92"/>
<line x1="43.30" y1="397.35" x2="74.90" y2="386.08" stroke="#ee5c5c" stroke-width="0.68" stroke-opacity="0.92"/>
<line x1="43.30" y1="399.34" x2="74.90" y2="388.07" stroke="#ee5c5c" stroke-width="0.68" stroke-opacity="0.92"/>
<line x1="43.30" y1="401.33" x2="74.90" y2="397.35" stroke="#ee5c5c" stroke-width="0.68" stroke-opacity="0.92"/>
<line x1="43.30" y1="403.33" x2="74.90" y2="401.33" stroke="#ee5c5c" stroke-width="0.68" stroke-opacity="0.92"/>
<line x1="43.30" y1="409.96" x2="74.90" y2="404.65" stroke="#5a90ee" stroke-width="0.68" stroke-opacity="0.92"/>
<line x1="43.30" y1="411.95" x2="74.90" y2="409.30" stroke="#ee5c5c" stroke-width="0.68" stroke-opacity="0.92"/>
<line x1="43.30" y1="413.94" x2="74.90" y2="407.31" stroke="#ee5c5c" stroke-width="0.68" stroke-opacity="0.92"/>
<line x1="43.30" y1="415.93" x2="74.90" y2="411.95" stroke="#ee5c5c" stroke-width="0.68" stroke-opacity="0.92"/>
<line x1="43.30" y1="417.92" x2="74.90" y2="414.60" stroke="#ee5c5c" stroke-width="0.68" stroke-opacity="0.92"/>
<line x1="43.30" y1="419.91" x2="74.90" y2="416.59" stroke="#ee5c5c" stroke-width="0.68" stroke-opacity="0.92"/>
<line x1="43.30" y1="421.90" x2="74.90" y2="418.58" stroke="#ee5c5c" stroke-width="0.68" stroke-opacity="0.92"/>
<line x1="43.30" y1="423.89" x2="74.90" y2="420.57" stroke="#ee5c5c" stroke-width="0.68" stroke-opacity="0.92"/>
<line x1="43.30" y1="425.88" x2="74.90" y2="422.56" stroke="#ee5c5c" stroke-width="0.68" stroke-opacity="0.92"/>
<line x1="43.30" y1="427.87" x2="74.90" y2="416.59" stroke="#ee5c5c" stroke-width="0.68" stroke-opacity="0.92"/>
<line x1="43.30" y1="429.86" x2="74.90" y2="414.60" stroke="#ee5c5c" stroke-width="0.68" stroke-opacity="0.92"/>
<line x1="43.30" y1="432.51" x2="74.90" y2="420.57" stroke="#ee5c5c" stroke-width="0.68" stroke-opacity="0.92"/>
<line x1="43.30" y1="397.35" x2="74.90" y2="405.32" stroke="#ee5c5c" stroke-width="0.68" stroke-opacity="0.92"/>
<line x1="43.30" y1="401.33" x2="74.90" y2="390.06" stroke="#ee5c5c" stroke-width="0.68" stroke-opacity="0.92"/>
<line x1="43.30" y1="393.37" x2="74.90" y2="399.34" stroke="#ee5c5c" stroke-width="0.68" stroke-opacity="0.92"/>
<line x1="43.30" y1="395.36" x2="74.90" y2="403.33" stroke="#ee5c5c" stroke-width="0.68" stroke-opacity="0.92"/>
<line x1="43.30" y1="391.38" x2="74.90" y2="388.07" stroke="#ee5c5c" stroke-width="0.68" stroke-opacity="0.92"/>
<line x1="43.30" y1="399.34" x2="74.90" y2="409.30" stroke="#ee5c5c" stroke-width="0.68" stroke-opacity="0.92"/>
<line x1="43.30" y1="403.33" x2="74.90" y2="397.35" stroke="#ee5c5c" stroke-width="0.68" stroke-opacity="0.92"/>
<line x1="43.30" y1="411.95" x2="74.90" y2="401.33" stroke="#ee5c5c" stroke-width="0.68" stroke-opacity="0.92"/>
<line x1="43.30" y1="415.93" x2="74.90" y2="406.64" stroke="#ee5c5c" stroke-width="0.68" stroke-opacity="0.92"/>
<line x1="74.90" y1="384.09" x2="106.80" y2="339.64" stroke="#ee5c5c" stroke-width="0.68" stroke-opacity="0.92"/>
<line x1="74.90" y1="391.38" x2="106.80" y2="410.62" stroke="#ee5c5c" stroke-width="0.68" stroke-opacity="0.92"/>
<line x1="74.90" y1="393.37" x2="106.80" y2="407.31" stroke="#ee5c5c" stroke-width="0.68" stroke-opacity="0.92"/>
<line x1="74.90" y1="398.68" x2="106.80" y2="411.29" stroke="#ee5c5c" stroke-width="0.68" stroke-opacity="0.92"/>
<line x1="74.90" y1="405.32" x2="106.80" y2="396.69" stroke="#ee5c5c" stroke-width="0.68" stroke-opacity="0.92"/>
<line x1="74.90" y1="414.60" x2="106.80" y2="411.29" stroke="#ee5c5c" stroke-width="0.68" stroke-opacity="0.92"/>
<line x1="74.90" y1="417.26" x2="106.80" y2="411.95" stroke="#ee5c5c" stroke-width="0.68" stroke-opacity="0.92"/>
<line x1="74.90" y1="404.65" x2="106.80" y2="395.36" stroke="#5a90ee" stroke-width="0.68" stroke-opacity="0.92"/>
<line x1="74.90" y1="388.07" x2="106.80" y2="396.69" stroke="#ee5c5c" stroke-width="0.68" stroke-opacity="0.92"/>
<line x1="74.90" y1="390.06" x2="106.80" y2="411.95" stroke="#ee5c5c" stroke-width="0.68" stroke-opacity="0.92"/>
<line x1="74.90" y1="401.33" x2="106.80" y2="407.31" stroke="#ee5c5c" stroke-width="0.68" stroke-opacity="0.92"/>
<line x1="74.90" y1="407.31" x2="106.80" y2="410.62" stroke="#ee5c5c" stroke-width="0.68" stroke-opacity="0.92"/>
<line x1="74.90" y1="409.30" x2="106.80" y2="396.69" stroke="#ee5c5c" stroke-width="0.68" stroke-opacity="0.92"/>
<line x1="74.90" y1="419.91" x2="106.80" y2="411.95" stroke="#ee5c5c" stroke-width="0.68" stroke-opacity="0.92"/>
<circle cx="43.30" cy="387.40" r="0.95" fill="#000"/>
<circle cx="43.30" cy="389.39" r="0.95" fill="#000"/>
<circle cx="43.30" cy="391.38" r="0.95" fill="#000"/>
<circle cx="43.30" cy="393.37" r="0.95" fill="#000"/>
<circle cx="43.30" cy="395.36" r="0.95" fill="#000"/>
<circle cx="43.30" cy="397.35" r="0.95" fill="#000"/>
<circle cx="43.30" cy="399.34" r="0.95" fill="#000"/>
<circle cx="43.30" cy="401.33" r="0.95" fill="#000"/>
<circle cx="43.30" cy="403.33" r="0.95" fill="#000"/>
<circle cx="43.30" cy="409.96" r="0.95" fill="#000"/>
<circle cx="43.30" cy="411.95" r="0.95" fill="#000"/>
<circle cx="43.30" cy="413.94" r="0.95" fill="#000"/>
<circle cx="43.30" cy="415.93" r="0.95" fill="#000"/>
<circle cx="43.30" cy="417.92" r="0.95" fill="#000"/>
<circle cx="43.30" cy="419.91" r="0.95" fill="#000"/>
<circle cx="43.30" cy="421.90" r="0.95" fill="#000"/>
<circle cx="43.30" cy="423.89" r="0.95" fill="#000"/>
<circle cx="43.30" cy="425.88" r="0.95" fill="#000"/>
<circle cx="43.30" cy="427.87" r="0.95" fill="#000"/>
<circle cx="43.30" cy="429.86" r="0.95" fill="#000"/>
<circle cx="43.30" cy="432.51" r="0.95" fill="#000"/>
<circle cx="74.90" cy="378.12" r="0.95" fill="#000"/>
<circle cx="74.90" cy="380.11" r="0.95" fill="#000"/>
<circle cx="74.90" cy="382.10" r="0.95" fill="#000"/>
<circle cx="74.90" cy="384.09" r="0.95" fill="#000"/>
<circle cx="74.90" cy="386.08" r="0.95" fill="#000"/>
<circle cx="74.90" cy="388.07" r="0.95" fill="#000"/>
<circle cx="74.90" cy="390.06" r="0.95" fill="#000"/>
<circle cx="74.90" cy="392.71" r="0.95" fill="#000"/>
<circle cx="74.90" cy="397.35" r="0.95" fill="#000"/>
<circle cx="74.90" cy="399.34" r="0.95" fill="#000"/>
<circle cx="74.90" cy="401.33" r="0.95" fill="#000"/>
<circle cx="74.90" cy="403.33" r="0.95" fill="#000"/>
<circle cx="74.90" cy="405.32" r="0.95" fill="#000"/>
<circle cx="74.90" cy="407.31" r="0.95" fill="#000"/>
<circle cx="74.90" cy="409.30" r="0.95" fill="#000"/>
<circle cx="74.90" cy="411.95" r="0.95" fill="#000"/>
<circle cx="74.90" cy="414.60" r="0.95" fill="#000"/>
<circle cx="74.90" cy="416.59" r="0.95" fill="#000"/>
<circle cx="74.90" cy="418.58" r="0.95" fill="#000"/>
<circle cx="74.90" cy="420.57" r="0.95" fill="#000"/>
<circle cx="74.90" cy="422.56" r="0.95" fill="#000"/>
<circle cx="106.80" cy="339.64" r="0.95" fill="#000"/>
<circle cx="106.80" cy="395.36" r="0.95" fill="#000"/>
<circle cx="106.80" cy="396.69" r="0.95" fill="#000"/>
<circle cx="106.80" cy="407.31" r="0.95" fill="#000"/>
<circle cx="106.80" cy="410.62" r="0.95" fill="#000"/>
<circle cx="106.80" cy="411.95" r="0.95" fill="#000"/>
<path d="M24.10,336.00V436.20H125.20" fill="none" stroke="#333" stroke-width="0.75"/>
<line x1="22.50" y1="356.70" x2="24.10" y2="356.70" stroke="#333" stroke-width="0.6"/>
<text x="21.00" y="359.29" font-size="7.2" text-anchor="end" font-weight="normal" fill="#2b2b2b" >1.4</text>
<line x1="22.50" y1="383.50" x2="24.10" y2="383.50" stroke="#333" stroke-width="0.6"/>
<text x="21.00" y="386.09" font-size="7.2" text-anchor="end" font-weight="normal" fill="#2b2b2b" >1.2</text>
<line x1="22.50" y1="410.50" x2="24.10" y2="410.50" stroke="#333" stroke-width="0.6"/>
<text x="21.00" y="413.09" font-size="7.2" text-anchor="end" font-weight="normal" fill="#2b2b2b" >1.0</text>
<line x1="43.30" y1="436.20" x2="43.30" y2="437.80" stroke="#333" stroke-width="0.6"/>
<text x="43.30" y="446.72" font-size="6.9" text-anchor="middle" font-weight="normal" fill="#2b2b2b" >Baseline</text>
<line x1="74.90" y1="436.20" x2="74.90" y2="437.80" stroke="#333" stroke-width="0.6"/>
<text x="74.90" y="446.72" font-size="6.9" text-anchor="middle" font-weight="normal" fill="#2b2b2b" >C1D1</text>
<line x1="106.80" y1="436.20" x2="106.80" y2="437.80" stroke="#333" stroke-width="0.6"/>
<text x="106.80" y="446.72" font-size="6.9" text-anchor="middle" font-weight="normal" fill="#2b2b2b" >C2D1</text>
<text x="74.90" y="455.32" font-size="6.9" text-anchor="middle" font-weight="normal" fill="#111" >Time point</text>
<text transform="translate(7.96,386.00) rotate(-90)" font-size="8.0" text-anchor="middle" fill="#111">Marker Expression</text>
<text x="24.50" y="329.20" font-size="8.3" fill="#111" textLength="63.4" lengthAdjust="spacingAndGlyphs">CLEC9A in cDC1</text>
<line x1="43.30" y1="354.00" x2="80.20" y2="354.00" stroke="#111" stroke-width="1.5"/>
<circle cx="61.00" cy="347.30" r="0.85" fill="#111"/>
<g>
<text x="136.70" y="375.48" font-size="6.9" text-anchor="start" font-weight="normal" fill="#111" >RECIST</text>
<line x1="137.82" y1="386.60" x2="146.04" y2="386.60" stroke="#8db3f3" stroke-width="1.0"/>
<line x1="137.82" y1="397.30" x2="146.04" y2="397.30" stroke="#f29494" stroke-width="1.0"/>
<text x="150.50" y="388.64" font-size="5.52" text-anchor="start" font-weight="normal" fill="#111" >R</text>
<text x="150.50" y="399.34" font-size="5.52" text-anchor="start" font-weight="normal" fill="#111" >NR</text>
</g></g>
<g class="pt"><line x1="225.90" y1="378.20" x2="225.90" y2="392.60" stroke="#222" stroke-width="0.6"/>
<line x1="225.90" y1="410.30" x2="225.90" y2="431.50" stroke="#222" stroke-width="0.6"/>
<rect x="217.30" y="392.60" width="17.20" height="17.70" fill="none" stroke="#a8a8a8" stroke-width="0.65"/>
<line x1="217.30" y1="405.80" x2="234.50" y2="405.80" stroke="#a8a8a8" stroke-width="1.2"/>
<path d="M225.90,392.60H217.30V410.30H225.90" fill="none" stroke="#262626" stroke-width="0.65"/>
<line x1="217.30" y1="405.80" x2="225.90" y2="405.80" stroke="#111" stroke-width="1.3"/>
<line x1="260.10" y1="339.60" x2="260.10" y2="380.30" stroke="#222" stroke-width="0.6"/>
<line x1="260.10" y1="407.60" x2="260.10" y2="432.30" stroke="#222" stroke-width="0.6"/>
<rect x="251.40" y="380.30" width="17.30" height="27.30" fill="none" stroke="#a8a8a8" stroke-width="0.65"/>
<line x1="251.40" y1="393.40" x2="268.70" y2="393.40" stroke="#a8a8a8" stroke-width="1.2"/>
<path d="M260.10,380.30H268.70V407.60H260.10" fill="none" stroke="#262626" stroke-width="0.65"/>
<line x1="260.10" y1="393.40" x2="268.70" y2="393.40" stroke="#111" stroke-width="1.3"/>
<line x1="294.20" y1="371.40" x2="294.20" y2="381.90" stroke="#222" stroke-width="0.6"/>
<line x1="294.20" y1="403.90" x2="294.20" y2="420.30" stroke="#222" stroke-width="0.6"/>
<rect x="285.60" y="381.90" width="17.20" height="22.00" fill="none" stroke="#a8a8a8" stroke-width="0.65"/>
<line x1="285.60" y1="397.40" x2="302.80" y2="397.40" stroke="#a8a8a8" stroke-width="1.2"/>
<line x1="285.60" y1="397.40" x2="302.80" y2="397.40" stroke="#111" stroke-width="1.3"/>
<path d="M294.20,381.90H302.80V403.90H294.20" fill="none" stroke="#555" stroke-width="0.6"/>
<line x1="225.90" y1="388.04" x2="260.10" y2="340.04" stroke="#ee5c5c" stroke-width="0.68" stroke-opacity="0.92"/>
<line x1="225.90" y1="390.70" x2="260.10" y2="344.95" stroke="#ee5c5c" stroke-width="0.68" stroke-opacity="0.92"/>
<line x1="225.90" y1="378.76" x2="260.10" y2="393.35" stroke="#ee5c5c" stroke-width="0.68" stroke-opacity="0.92"/>
<line x1="225.90" y1="380.75" x2="260.10" y2="384.73" stroke="#ee5c5c" stroke-width="0.68" stroke-opacity="0.92"/>
<line x1="225.90" y1="385.39" x2="260.10" y2="372.13" stroke="#ee5c5c" stroke-width="0.68" stroke-opacity="0.92"/>
<line x1="225.90" y1="388.71" x2="260.10" y2="383.40" stroke="#5a90ee" stroke-width="0.68" stroke-opacity="0.92"/>
<line x1="225.90" y1="393.35" x2="260.10" y2="365.23" stroke="#ee5c5c" stroke-width="0.68" stroke-opacity="0.92"/>
<line x1="225.90" y1="396.00" x2="260.10" y2="370.14" stroke="#ee5c5c" stroke-width="0.68" stroke-opacity="0.92"/>
<line x1="225.90" y1="399.98" x2="260.10" y2="378.76" stroke="#ee5c5c" stroke-width="0.68" stroke-opacity="0.92"/>
<line x1="225.90" y1="401.30" x2="260.10" y2="380.75" stroke="#ee5c5c" stroke-width="0.68" stroke-opacity="0.92"/>
<line x1="225.90" y1="402.63" x2="260.10" y2="382.74" stroke="#ee5c5c" stroke-width="0.68" stroke-opacity="0.92"/>
<line x1="225.90" y1="403.96" x2="260.10" y2="386.72" stroke="#ee5c5c" stroke-width="0.68" stroke-opacity="0.92"/>
<line x1="225.90" y1="405.28" x2="260.10" y2="393.35" stroke="#ee5c5c" stroke-width="0.68" stroke-opacity="0.92"/>
<line x1="225.90" y1="406.61" x2="260.10" y2="395.34" stroke="#5a90ee" stroke-width="0.68" stroke-opacity="0.92"/>
<line x1="225.90" y1="407.93" x2="260.10" y2="397.33" stroke="#ee5c5c" stroke-width="0.68" stroke-opacity="0.92"/>
<line x1="225.90" y1="409.26" x2="260.10" y2="403.96" stroke="#ee5c5c" stroke-width="0.68" stroke-opacity="0.92"/>
<line x1="225.90" y1="410.59" x2="260.10" y2="408.60" stroke="#ee5c5c" stroke-width="0.68" stroke-opacity="0.92"/>
<line x1="225.90" y1="417.22" x2="260.10" y2="425.17" stroke="#ee5c5c" stroke-width="0.68" stroke-opacity="0.92"/>
<line x1="225.90" y1="425.17" x2="260.10" y2="432.47" stroke="#ee5c5c" stroke-width="0.68" stroke-opacity="0.92"/>
<line x1="225.90" y1="431.80" x2="260.10" y2="409.92" stroke="#5a90ee" stroke-width="0.68" stroke-opacity="0.92"/>
<line x1="225.90" y1="407.27" x2="260.10" y2="413.90" stroke="#ee5c5c" stroke-width="0.68" stroke-opacity="0.92"/>
<line x1="225.90" y1="403.29" x2="260.10" y2="374.78" stroke="#ee5c5c" stroke-width="0.68" stroke-opacity="0.92"/>
<line x1="225.90" y1="404.62" x2="260.10" y2="390.70" stroke="#ee5c5c" stroke-width="0.68" stroke-opacity="0.92"/>
<line x1="225.90" y1="408.60" x2="260.10" y2="409.26" stroke="#ee5c5c" stroke-width="0.68" stroke-opacity="0.92"/>
<line x1="260.10" y1="344.95" x2="294.20" y2="371.47" stroke="#ee5c5c" stroke-width="0.68" stroke-opacity="0.92"/>
<line x1="260.10" y1="380.75" x2="294.20" y2="385.13" stroke="#ee5c5c" stroke-width="0.68" stroke-opacity="0.92"/>
<line x1="260.10" y1="393.35" x2="294.20" y2="397.06" stroke="#ee5c5c" stroke-width="0.68" stroke-opacity="0.92"/>
<line x1="260.10" y1="408.60" x2="294.20" y2="413.24" stroke="#ee5c5c" stroke-width="0.68" stroke-opacity="0.92"/>
<line x1="260.10" y1="409.26" x2="294.20" y2="419.87" stroke="#ee5c5c" stroke-width="0.68" stroke-opacity="0.92"/>
<line x1="260.10" y1="406.61" x2="294.20" y2="374.78" stroke="#ee5c5c" stroke-width="0.68" stroke-opacity="0.92"/>
<line x1="260.10" y1="395.34" x2="294.20" y2="399.98" stroke="#5a90ee" stroke-width="0.68" stroke-opacity="0.92"/>
<line x1="260.10" y1="397.33" x2="294.20" y2="398.65" stroke="#ee5c5c" stroke-width="0.68" stroke-opacity="0.92"/>
<circle cx="225.90" cy="378.76" r="0.95" fill="#000"/>
<circle cx="225.90" cy="380.75" r="0.95" fill="#000"/>
<circle cx="225.90" cy="385.39" r="0.95" fill="#000"/>
<circle cx="225.90" cy="388.71" r="0.95" fill="#000"/>
<circle cx="225.90" cy="390.70" r="0.95" fill="#000"/>
<circle cx="225.90" cy="393.35" r="0.95" fill="#000"/>
<circle cx="225.90" cy="396.00" r="0.95" fill="#000"/>
<circle cx="225.90" cy="399.98" r="0.95" fill="#000"/>
<circle cx="225.90" cy="401.30" r="0.95" fill="#000"/>
<circle cx="225.90" cy="402.63" r="0.95" fill="#000"/>
<circle cx="225.90" cy="403.96" r="0.95" fill="#000"/>
<circle cx="225.90" cy="405.28" r="0.95" fill="#000"/>
<circle cx="225.90" cy="406.61" r="0.95" fill="#000"/>
<circle cx="225.90" cy="407.93" r="0.95" fill="#000"/>
<circle cx="225.90" cy="409.26" r="0.95" fill="#000"/>
<circle cx="225.90" cy="410.59" r="0.95" fill="#000"/>
<circle cx="225.90" cy="417.22" r="0.95" fill="#000"/>
<circle cx="225.90" cy="425.17" r="0.95" fill="#000"/>
<circle cx="225.90" cy="431.80" r="0.95" fill="#000"/>
<circle cx="260.10" cy="340.04" r="0.95" fill="#000"/>
<circle cx="260.10" cy="344.95" r="0.95" fill="#000"/>
<circle cx="260.10" cy="365.23" r="0.95" fill="#000"/>
<circle cx="260.10" cy="370.14" r="0.95" fill="#000"/>
<circle cx="260.10" cy="372.13" r="0.95" fill="#000"/>
<circle cx="260.10" cy="378.76" r="0.95" fill="#000"/>
<circle cx="260.10" cy="380.75" r="0.95" fill="#000"/>
<circle cx="260.10" cy="382.74" r="0.95" fill="#000"/>
<circle cx="260.10" cy="384.73" r="0.95" fill="#000"/>
<circle cx="260.10" cy="386.72" r="0.95" fill="#000"/>
<circle cx="260.10" cy="393.35" r="0.95" fill="#000"/>
<circle cx="260.10" cy="395.34" r="0.95" fill="#000"/>
<circle cx="260.10" cy="397.33" r="0.95" fill="#000"/>
<circle cx="260.10" cy="403.96" r="0.95" fill="#000"/>
<circle cx="260.10" cy="408.60" r="0.95" fill="#000"/>
<circle cx="260.10" cy="409.92" r="0.95" fill="#000"/>
<circle cx="260.10" cy="413.90" r="0.95" fill="#000"/>
<circle cx="260.10" cy="425.17" r="0.95" fill="#000"/>
<circle cx="260.10" cy="432.47" r="0.95" fill="#000"/>
<circle cx="294.20" cy="371.47" r="0.95" fill="#000"/>
<circle cx="294.20" cy="374.78" r="0.95" fill="#000"/>
<circle cx="294.20" cy="385.13" r="0.95" fill="#000"/>
<circle cx="294.20" cy="397.06" r="0.95" fill="#000"/>
<circle cx="294.20" cy="399.98" r="0.95" fill="#000"/>
<circle cx="294.20" cy="413.24" r="0.95" fill="#000"/>
<circle cx="294.20" cy="419.87" r="0.95" fill="#000"/>
<path d="M205.60,335.00V436.00H314.50" fill="none" stroke="#333" stroke-width="0.75"/>
<line x1="204.00" y1="348.00" x2="205.60" y2="348.00" stroke="#333" stroke-width="0.6"/>
<text x="202.50" y="350.88" font-size="8.0" text-anchor="end" font-weight="normal" fill="#2b2b2b" >0.40</text>
<line x1="204.00" y1="365.30" x2="205.60" y2="365.30" stroke="#333" stroke-width="0.6"/>
<text x="202.50" y="368.18" font-size="8.0" text-anchor="end" font-weight="normal" fill="#2b2b2b" >0.35</text>
<line x1="204.00" y1="382.50" x2="205.60" y2="382.50" stroke="#333" stroke-width="0.6"/>
<text x="202.50" y="385.38" font-size="8.0" text-anchor="end" font-weight="normal" fill="#2b2b2b" >0.30</text>
<line x1="204.00" y1="400.20" x2="205.60" y2="400.20" stroke="#333" stroke-width="0.6"/>
<text x="202.50" y="403.08" font-size="8.0" text-anchor="end" font-weight="normal" fill="#2b2b2b" >0.25</text>
<line x1="204.00" y1="417.50" x2="205.60" y2="417.50" stroke="#333" stroke-width="0.6"/>
<text x="202.50" y="420.38" font-size="8.0" text-anchor="end" font-weight="normal" fill="#2b2b2b" >0.20</text>
<line x1="204.00" y1="434.70" x2="205.60" y2="434.70" stroke="#333" stroke-width="0.6"/>
<text x="202.50" y="437.58" font-size="8.0" text-anchor="end" font-weight="normal" fill="#2b2b2b" >0.15</text>
<line x1="225.90" y1="436.00" x2="225.90" y2="437.60" stroke="#333" stroke-width="0.6"/>
<text x="225.90" y="446.99" font-size="7.65" text-anchor="middle" font-weight="normal" fill="#2b2b2b" >Baseline</text>
<line x1="260.10" y1="436.00" x2="260.10" y2="437.60" stroke="#333" stroke-width="0.6"/>
<text x="260.10" y="446.99" font-size="7.65" text-anchor="middle" font-weight="normal" fill="#2b2b2b" >C1D1</text>
<line x1="294.20" y1="436.00" x2="294.20" y2="437.60" stroke="#333" stroke-width="0.6"/>
<text x="294.20" y="446.99" font-size="7.65" text-anchor="middle" font-weight="normal" fill="#2b2b2b" >C2D1</text>
<text x="260.10" y="455.59" font-size="7.65" text-anchor="middle" font-weight="normal" fill="#111" >Time point</text>
<text transform="translate(182.26,386.10) rotate(-90)" font-size="8.0" text-anchor="middle" fill="#111">Marker Expression</text>
<text x="205.70" y="329.50" font-size="9.27" fill="#111" textLength="64.4" lengthAdjust="spacingAndGlyphs">CD103 in cDC2</text>
<line x1="223.30" y1="341.20" x2="255.40" y2="341.20" stroke="#111" stroke-width="1.5"/>
<circle cx="237.30" cy="336.40" r="0.85" fill="#111"/>
<g>
<text x="326.90" y="375.75" font-size="7.65" text-anchor="start" font-weight="normal" fill="#111" >RECIST</text>
<line x1="328.14" y1="385.90" x2="337.25" y2="385.90" stroke="#8db3f3" stroke-width="1.0"/>
<line x1="328.14" y1="397.40" x2="337.25" y2="397.40" stroke="#f29494" stroke-width="1.0"/>
<text x="342.20" y="388.16" font-size="6.12" text-anchor="start" font-weight="normal" fill="#111" >R</text>
<text x="342.20" y="399.66" font-size="6.12" text-anchor="start" font-weight="normal" fill="#111" >NR</text>
</g></g>
<g class="pt"><line x1="425.40" y1="361.30" x2="425.40" y2="377.40" stroke="#222" stroke-width="0.6"/>
<line x1="425.40" y1="401.50" x2="425.40" y2="427.20" stroke="#222" stroke-width="0.6"/>
<rect x="416.40" y="377.40" width="18.10" height="24.10" fill="none" stroke="#a8a8a8" stroke-width="0.65"/>
<line x1="416.40" y1="387.30" x2="434.50" y2="387.30" stroke="#a8a8a8" stroke-width="1.2"/>
<path d="M425.40,377.40H416.40V401.50H425.40" fill="none" stroke="#262626" stroke-width="0.65"/>
<line x1="416.40" y1="387.30" x2="425.40" y2="387.30" stroke="#111" stroke-width="1.3"/>
<line x1="461.00" y1="360.50" x2="461.00" y2="386.20" stroke="#222" stroke-width="0.6"/>
<line x1="461.00" y1="412.70" x2="461.00" y2="432.00" stroke="#222" stroke-width="0.6"/>
<rect x="451.70" y="386.20" width="18.20" height="26.50" fill="none" stroke="#a8a8a8" stroke-width="0.65"/>
<line x1="451.70" y1="394.20" x2="469.90" y2="394.20" stroke="#a8a8a8" stroke-width="1.2"/>
<path d="M461.00,386.20H469.90V412.70H461.00" fill="none" stroke="#262626" stroke-width="0.65"/>
<line x1="461.00" y1="394.20" x2="469.90" y2="394.20" stroke="#111" stroke-width="1.3"/>
<line x1="496.80" y1="373.00" x2="496.80" y2="383.00" stroke="#222" stroke-width="0.6"/>
<line x1="496.80" y1="407.90" x2="496.80" y2="428.80" stroke="#222" stroke-width="0.6"/>
<rect x="487.50" y="383.00" width="18.20" height="24.90" fill="none" stroke="#a8a8a8" stroke-width="0.65"/>
<line x1="487.50" y1="392.30" x2="505.70" y2="392.30" stroke="#a8a8a8" stroke-width="1.2"/>
<line x1="487.50" y1="392.30" x2="505.70" y2="392.30" stroke="#111" stroke-width="1.3"/>
<path d="M496.80,383.00H505.70V407.90H496.80" fill="none" stroke="#555" stroke-width="0.6"/>
<line x1="425.40" y1="338.98" x2="461.00" y2="372.78" stroke="#ee5c5c" stroke-width="0.68" stroke-opacity="0.92"/>
<line x1="425.40" y1="361.51" x2="461.00" y2="360.85" stroke="#ee5c5c" stroke-width="0.68" stroke-opacity="0.92"/>
<line x1="425.40" y1="363.50" x2="461.00" y2="383.38" stroke="#ee5c5c" stroke-width="0.68" stroke-opacity="0.92"/>
<line x1="425.40" y1="364.83" x2="461.00" y2="385.37" stroke="#ee5c5c" stroke-width="0.68" stroke-opacity="0.92"/>
<line x1="425.40" y1="370.13" x2="461.00" y2="372.78" stroke="#ee5c5c" stroke-width="0.68" stroke-opacity="0.92"/>
<line x1="425.40" y1="373.44" x2="461.00" y2="387.36" stroke="#ee5c5c" stroke-width="0.68" stroke-opacity="0.92"/>
<line x1="425.40" y1="375.43" x2="461.00" y2="389.35" stroke="#ee5c5c" stroke-width="0.68" stroke-opacity="0.92"/>
<line x1="425.40" y1="378.08" x2="461.00" y2="392.00" stroke="#5a90ee" stroke-width="0.68" stroke-opacity="0.92"/>
<line x1="425.40" y1="380.73" x2="461.00" y2="393.99" stroke="#5a90ee" stroke-width="0.68" stroke-opacity="0.92"/>
<line x1="425.40" y1="383.38" x2="461.00" y2="395.98" stroke="#ee5c5c" stroke-width="0.68" stroke-opacity="0.92"/>
<line x1="425.40" y1="386.03" x2="461.00" y2="385.37" stroke="#ee5c5c" stroke-width="0.68" stroke-opacity="0.92"/>
<line x1="425.40" y1="388.02" x2="461.00" y2="390.67" stroke="#ee5c5c" stroke-width="0.68" stroke-opacity="0.92"/>
<line x1="425.40" y1="390.67" x2="461.00" y2="401.28" stroke="#ee5c5c" stroke-width="0.68" stroke-opacity="0.92"/>
<line x1="425.40" y1="393.32" x2="461.00" y2="389.35" stroke="#ee5c5c" stroke-width="0.68" stroke-opacity="0.92"/>
<line x1="425.40" y1="395.31" x2="461.00" y2="393.99" stroke="#ee5c5c" stroke-width="0.68" stroke-opacity="0.92"/>
<line x1="425.40" y1="397.96" x2="461.00" y2="387.36" stroke="#ee5c5c" stroke-width="0.68" stroke-opacity="0.92"/>
<line x1="425.40" y1="409.89" x2="461.00" y2="415.86" stroke="#ee5c5c" stroke-width="0.68" stroke-opacity="0.92"/>
<line x1="425.40" y1="413.87" x2="461.00" y2="421.16" stroke="#5a90ee" stroke-width="0.68" stroke-opacity="0.92"/>
<line x1="425.40" y1="415.20" x2="461.00" y2="417.85" stroke="#ee5c5c" stroke-width="0.68" stroke-opacity="0.92"/>
<line x1="425.40" y1="416.52" x2="461.00" y2="420.50" stroke="#ee5c5c" stroke-width="0.68" stroke-opacity="0.92"/>
<line x1="425.40" y1="417.85" x2="461.00" y2="422.49" stroke="#ee5c5c" stroke-width="0.68" stroke-opacity="0.92"/>
<line x1="425.40" y1="420.50" x2="461.00" y2="424.48" stroke="#ee5c5c" stroke-width="0.68" stroke-opacity="0.92"/>
<line x1="425.40" y1="422.49" x2="461.00" y2="427.13" stroke="#ee5c5c" stroke-width="0.68" stroke-opacity="0.92"/>
<line x1="425.40" y1="426.46" x2="461.00" y2="432.43" stroke="#ee5c5c" stroke-width="0.68" stroke-opacity="0.92"/>
<line x1="425.40" y1="364.16" x2="461.00" y2="382.06" stroke="#ee5c5c" stroke-width="0.68" stroke-opacity="0.92"/>
<line x1="425.40" y1="366.81" x2="461.00" y2="388.02" stroke="#ee5c5c" stroke-width="0.68" stroke-opacity="0.92"/>
<line x1="425.40" y1="381.39" x2="461.00" y2="384.05" stroke="#ee5c5c" stroke-width="0.68" stroke-opacity="0.92"/>
<line x1="461.00" y1="360.85" x2="496.80" y2="378.74" stroke="#ee5c5c" stroke-width="0.68" stroke-opacity="0.92"/>
<line x1="461.00" y1="372.78" x2="496.80" y2="373.44" stroke="#ee5c5c" stroke-width="0.68" stroke-opacity="0.92"/>
<line x1="461.00" y1="383.38" x2="496.80" y2="396.24" stroke="#5a90ee" stroke-width="0.68" stroke-opacity="0.92"/>
<line x1="461.00" y1="385.37" x2="496.80" y2="384.05" stroke="#ee5c5c" stroke-width="0.68" stroke-opacity="0.92"/>
<line x1="461.00" y1="393.32" x2="496.80" y2="388.69" stroke="#ee5c5c" stroke-width="0.68" stroke-opacity="0.92"/>
<line x1="461.00" y1="411.88" x2="496.80" y2="405.25" stroke="#ee5c5c" stroke-width="0.68" stroke-opacity="0.92"/>
<line x1="461.00" y1="415.86" x2="496.80" y2="405.25" stroke="#ee5c5c" stroke-width="0.68" stroke-opacity="0.92"/>
<line x1="461.00" y1="417.85" x2="496.80" y2="415.20" stroke="#ee5c5c" stroke-width="0.68" stroke-opacity="0.92"/>
<line x1="461.00" y1="427.13" x2="496.80" y2="428.45" stroke="#ee5c5c" stroke-width="0.68" stroke-opacity="0.92"/>
<circle cx="425.40" cy="338.98" r="0.95" fill="#000"/>
<circle cx="425.40" cy="361.51" r="0.95" fill="#000"/>
<circle cx="425.40" cy="363.50" r="0.95" fill="#000"/>
<circle cx="425.40" cy="364.83" r="0.95" fill="#000"/>
<circle cx="425.40" cy="370.13" r="0.95" fill="#000"/>
<circle cx="425.40" cy="373.44" r="0.95" fill="#000"/>
<circle cx="425.40" cy="375.43" r="0.95" fill="#000"/>
<circle cx="425.40" cy="378.08" r="0.95" fill="#000"/>
<circle cx="425.40" cy="380.73" r="0.95" fill="#000"/>
<circle cx="425.40" cy="383.38" r="0.95" fill="#000"/>
<circle cx="425.40" cy="386.03" r="0.95" fill="#000"/>
<circle cx="425.40" cy="388.02" r="0.95" fill="#000"/>
<circle cx="425.40" cy="390.67" r="0.95" fill="#000"/>
<circle cx="425.40" cy="393.32" r="0.95" fill="#000"/>
<circle cx="425.40" cy="395.31" r="0.95" fill="#000"/>
<circle cx="425.40" cy="397.96" r="0.95" fill="#000"/>
<circle cx="425.40" cy="409.89" r="0.95" fill="#000"/>
<circle cx="425.40" cy="413.87" r="0.95" fill="#000"/>
<circle cx="425.40" cy="415.20" r="0.95" fill="#000"/>
<circle cx="425.40" cy="416.52" r="0.95" fill="#000"/>
<circle cx="425.40" cy="417.85" r="0.95" fill="#000"/>
<circle cx="425.40" cy="420.50" r="0.95" fill="#000"/>
<circle cx="425.40" cy="422.49" r="0.95" fill="#000"/>
<circle cx="425.40" cy="426.46" r="0.95" fill="#000"/>
<circle cx="461.00" cy="360.85" r="0.95" fill="#000"/>
<circle cx="461.00" cy="372.78" r="0.95" fill="#000"/>
<circle cx="461.00" cy="382.06" r="0.95" fill="#000"/>
<circle cx="461.00" cy="383.38" r="0.95" fill="#000"/>
<circle cx="461.00" cy="385.37" r="0.95" fill="#000"/>
<circle cx="461.00" cy="387.36" r="0.95" fill="#000"/>
<circle cx="461.00" cy="389.35" r="0.95" fill="#000"/>
<circle cx="461.00" cy="392.00" r="0.95" fill="#000"/>
<circle cx="461.00" cy="393.99" r="0.95" fill="#000"/>
<circle cx="461.00" cy="395.98" r="0.95" fill="#000"/>
<circle cx="461.00" cy="401.28" r="0.95" fill="#000"/>
<circle cx="461.00" cy="411.88" r="0.95" fill="#000"/>
<circle cx="461.00" cy="416.52" r="0.95" fill="#000"/>
<circle cx="461.00" cy="417.85" r="0.95" fill="#000"/>
<circle cx="461.00" cy="420.50" r="0.95" fill="#000"/>
<circle cx="461.00" cy="422.49" r="0.95" fill="#000"/>
<circle cx="461.00" cy="424.48" r="0.95" fill="#000"/>
<circle cx="461.00" cy="427.13" r="0.95" fill="#000"/>
<circle cx="461.00" cy="432.43" r="0.95" fill="#000"/>
<circle cx="496.80" cy="373.44" r="0.95" fill="#000"/>
<circle cx="496.80" cy="378.74" r="0.95" fill="#000"/>
<circle cx="496.80" cy="384.05" r="0.95" fill="#000"/>
<circle cx="496.80" cy="388.69" r="0.95" fill="#000"/>
<circle cx="496.80" cy="396.24" r="0.95" fill="#000"/>
<circle cx="496.80" cy="405.25" r="0.95" fill="#000"/>
<circle cx="496.80" cy="415.20" r="0.95" fill="#000"/>
<circle cx="496.80" cy="428.45" r="0.95" fill="#000"/>
<path d="M404.30,335.60V436.00H517.70" fill="none" stroke="#333" stroke-width="0.75"/>
<line x1="402.70" y1="342.40" x2="404.30" y2="342.40" stroke="#333" stroke-width="0.6"/>
<text x="401.20" y="345.30" font-size="8.05" text-anchor="end" font-weight="normal" fill="#2b2b2b" >0.6</text>
<line x1="402.70" y1="365.30" x2="404.30" y2="365.30" stroke="#333" stroke-width="0.6"/>
<text x="401.20" y="368.20" font-size="8.05" text-anchor="end" font-weight="normal" fill="#2b2b2b" >0.5</text>
<line x1="402.70" y1="388.30" x2="404.30" y2="388.30" stroke="#333" stroke-width="0.6"/>
<text x="401.20" y="391.20" font-size="8.05" text-anchor="end" font-weight="normal" fill="#2b2b2b" >0.4</text>
<line x1="402.70" y1="411.10" x2="404.30" y2="411.10" stroke="#333" stroke-width="0.6"/>
<text x="401.20" y="414.00" font-size="8.05" text-anchor="end" font-weight="normal" fill="#2b2b2b" >0.3</text>
<line x1="402.70" y1="434.10" x2="404.30" y2="434.10" stroke="#333" stroke-width="0.6"/>
<text x="401.20" y="437.00" font-size="8.05" text-anchor="end" font-weight="normal" fill="#2b2b2b" >0.2</text>
<line x1="425.40" y1="436.00" x2="425.40" y2="437.60" stroke="#333" stroke-width="0.6"/>
<text x="425.40" y="447.01" font-size="7.7" text-anchor="middle" font-weight="normal" fill="#2b2b2b" >Baseline</text>
<line x1="461.00" y1="436.00" x2="461.00" y2="437.60" stroke="#333" stroke-width="0.6"/>
<text x="461.00" y="447.01" font-size="7.7" text-anchor="middle" font-weight="normal" fill="#2b2b2b" >C1D1</text>
<line x1="496.80" y1="436.00" x2="496.80" y2="437.60" stroke="#333" stroke-width="0.6"/>
<text x="496.80" y="447.01" font-size="7.7" text-anchor="middle" font-weight="normal" fill="#2b2b2b" >C2D1</text>
<text x="461.00" y="455.61" font-size="7.7" text-anchor="middle" font-weight="normal" fill="#111" >Time point</text>
<text transform="translate(385.43,386.10) rotate(-90)" font-size="7.95" text-anchor="middle" fill="#111">Marker Expression</text>
<text x="404.20" y="329.70" font-size="9.42" fill="#111" textLength="116.7" lengthAdjust="spacingAndGlyphs">Arg1 in Non-Classical Mono</text>
<line x1="423.30" y1="337.70" x2="454.60" y2="337.70" stroke="#111" stroke-width="1.5"/>
<circle cx="436.90" cy="332.90" r="0.85" fill="#111"/>
<g>
<text x="530.20" y="375.17" font-size="7.7" text-anchor="start" font-weight="normal" fill="#111" >RECIST</text>
<line x1="531.45" y1="386.10" x2="540.62" y2="386.10" stroke="#8db3f3" stroke-width="1.0"/>
<line x1="531.45" y1="397.80" x2="540.62" y2="397.80" stroke="#f29494" stroke-width="1.0"/>
<text x="545.60" y="388.38" font-size="6.16" text-anchor="start" font-weight="normal" fill="#111" >R</text>
<text x="545.60" y="400.08" font-size="6.16" text-anchor="start" font-weight="normal" fill="#111" >NR</text>
</g></g>
<g class="tb"><text x="11.40" y="482.90" font-size="11.5" text-anchor="start" font-weight="bold" fill="#000" >e</text>
<rect x="2.6" y="523.4" width="50.50" height="107.80" fill="#ededed"/>
<rect x="53.70" y="523.90" width="263.90" height="18.50" fill="#ededed"/>
<rect x="53.70" y="561.70" width="263.90" height="18.80" fill="#ededed"/>
<rect x="53.70" y="599.30" width="263.90" height="31.30" fill="#ededed"/>
<line x1="2.6" y1="488.9" x2="317.6" y2="488.9" stroke="#ababab" stroke-width="1.5"/>
<line x1="2.6" y1="523.4" x2="317.6" y2="523.4" stroke="#9a9a9a" stroke-width="1.1"/>
<line x1="2.6" y1="631.2" x2="317.6" y2="631.2" stroke="#9a9a9a" stroke-width="1.2"/>
<text x="12.30" y="510.00" font-size="9.3" text-anchor="start" font-weight="bold" fill="#000" textLength="31.9" lengthAdjust="spacingAndGlyphs">Marker</text>
<text x="101.50" y="510.00" font-size="9.3" text-anchor="middle" font-weight="bold" fill="#000" textLength="42.2" lengthAdjust="spacingAndGlyphs">Cell types</text>
<text x="191.60" y="503.80" font-size="8.0" text-anchor="middle" font-weight="bold" fill="#000" textLength="32.3" lengthAdjust="spacingAndGlyphs">Mean of</text>
<text x="191.60" y="514.90" font-size="8.0" text-anchor="middle" font-weight="bold" fill="#000" textLength="60.5" lengthAdjust="spacingAndGlyphs">(C1D1-Baseline)</text>
<text x="274.80" y="503.80" font-size="8.0" text-anchor="middle" font-weight="bold" fill="#000" textLength="27.6" lengthAdjust="spacingAndGlyphs">P value</text>
<text x="274.80" y="514.90" font-size="8.0" text-anchor="middle" font-weight="bold" fill="#000" textLength="63.8" lengthAdjust="spacingAndGlyphs">Baseline vs C1D1</text>
<text x="16.90" y="574.40" font-size="9.6" text-anchor="start" font-weight="normal" fill="#000" textLength="22.8" lengthAdjust="spacingAndGlyphs">CD40</text>
<text x="101.50" y="536.60" font-size="9.6" text-anchor="middle" font-weight="normal" fill="#000" textLength="21.6" lengthAdjust="spacingAndGlyphs">cDC1</text>
<text x="191.60" y="536.60" font-size="9.6" text-anchor="middle" font-weight="normal" fill="#000" textLength="24.0" lengthAdjust="spacingAndGlyphs">0.044</text>
<text x="274.80" y="536.60" font-size="9.6" text-anchor="middle" font-weight="normal" fill="#000" textLength="29.0" lengthAdjust="spacingAndGlyphs">&lt;0.001</text>
<text x="101.50" y="555.20" font-size="9.6" text-anchor="middle" font-weight="normal" fill="#000" textLength="21.6" lengthAdjust="spacingAndGlyphs">cDC2</text>
<text x="191.60" y="555.20" font-size="9.6" text-anchor="middle" font-weight="normal" fill="#000" textLength="24.0" lengthAdjust="spacingAndGlyphs">0.036</text>
<text x="274.80" y="555.20" font-size="9.6" text-anchor="middle" font-weight="normal" fill="#000" textLength="29.0" lengthAdjust="spacingAndGlyphs">&lt;0.001</text>
<text x="101.50" y="574.30" font-size="9.6" text-anchor="middle" font-weight="normal" fill="#000" textLength="71.5" lengthAdjust="spacingAndGlyphs">Early Myelocytes</text>
<text x="191.60" y="574.30" font-size="9.6" text-anchor="middle" font-weight="normal" fill="#000" textLength="24.0" lengthAdjust="spacingAndGlyphs">0.012</text>
<text x="274.80" y="574.30" font-size="9.6" text-anchor="middle" font-weight="normal" fill="#000" textLength="29.0" lengthAdjust="spacingAndGlyphs">&lt;0.001</text>
<text x="101.50" y="593.40" font-size="9.6" text-anchor="middle" font-weight="normal" fill="#000" textLength="17.5" lengthAdjust="spacingAndGlyphs">pDC</text>
<text x="191.60" y="593.40" font-size="9.6" text-anchor="middle" font-weight="normal" fill="#000" textLength="24.0" lengthAdjust="spacingAndGlyphs">0.011</text>
<text x="274.80" y="593.40" font-size="9.6" text-anchor="middle" font-weight="normal" fill="#000" textLength="24.0" lengthAdjust="spacingAndGlyphs">0.003</text>
<text x="101.50" y="611.60" font-size="9.6" text-anchor="middle" font-weight="normal" fill="#000" textLength="66.0" lengthAdjust="spacingAndGlyphs">preDC/Classical</text>
<text x="101.50" y="624.70" font-size="9.6" text-anchor="middle" font-weight="normal" fill="#000" textLength="47.0" lengthAdjust="spacingAndGlyphs">monocytes</text>
<text x="191.60" y="611.60" font-size="9.6" text-anchor="middle" font-weight="normal" fill="#000" textLength="24.0" lengthAdjust="spacingAndGlyphs">0.049</text>
<text x="274.80" y="611.60" font-size="9.6" text-anchor="middle" font-weight="normal" fill="#000" textLength="29.0" lengthAdjust="spacingAndGlyphs">&lt;0.001</text>
<text x="356.90" y="476.90" font-size="11.0" text-anchor="start" font-weight="bold" fill="#000" >f</text>
<rect x="354.9" y="515.9" width="57.10" height="115.50" fill="#ededed"/>
<rect x="412.00" y="516.30" width="273.50" height="18.00" fill="#ededed"/>
<rect x="412.00" y="552.20" width="273.50" height="17.70" fill="#ededed"/>
<rect x="412.00" y="600.70" width="273.50" height="30.10" fill="#ededed"/>
<line x1="354.9" y1="488.8" x2="685.5" y2="488.8" stroke="#ababab" stroke-width="1.5"/>
<line x1="354.9" y1="515.9" x2="685.5" y2="515.9" stroke="#9a9a9a" stroke-width="1.1"/>
<line x1="354.9" y1="631.4" x2="685.5" y2="631.4" stroke="#9a9a9a" stroke-width="1.2"/>
<text x="367.80" y="505.90" font-size="9.3" text-anchor="start" font-weight="bold" fill="#000" textLength="31.8" lengthAdjust="spacingAndGlyphs">Marker</text>
<text x="455.40" y="505.90" font-size="9.3" text-anchor="middle" font-weight="bold" fill="#000" textLength="42.2" lengthAdjust="spacingAndGlyphs">Cell types</text>
<text x="544.40" y="500.40" font-size="8.0" text-anchor="middle" font-weight="bold" fill="#000" textLength="32.3" lengthAdjust="spacingAndGlyphs">Mean of</text>
<text x="544.40" y="510.60" font-size="8.0" text-anchor="middle" font-weight="bold" fill="#000" textLength="60.8" lengthAdjust="spacingAndGlyphs">(C1D1-Baseline)</text>
<text x="637.30" y="500.40" font-size="8.0" text-anchor="middle" font-weight="bold" fill="#000" textLength="27.6" lengthAdjust="spacingAndGlyphs">P value</text>
<text x="637.30" y="510.60" font-size="8.0" text-anchor="middle" font-weight="bold" fill="#000" textLength="64.0" lengthAdjust="spacingAndGlyphs">Baseline vs C1D1</text>
<text x="372.80" y="578.10" font-size="9.6" text-anchor="start" font-weight="normal" fill="#000" textLength="22.0" lengthAdjust="spacingAndGlyphs">CCR5</text>
<text x="455.40" y="528.50" font-size="9.6" text-anchor="middle" font-weight="normal" fill="#000" textLength="21.6" lengthAdjust="spacingAndGlyphs">cDC2</text>
<text x="544.40" y="528.50" font-size="9.6" text-anchor="middle" font-weight="normal" fill="#000" textLength="24.0" lengthAdjust="spacingAndGlyphs">0.089</text>
<text x="637.30" y="528.50" font-size="9.6" text-anchor="middle" font-weight="normal" fill="#000" textLength="24.0" lengthAdjust="spacingAndGlyphs">0.003</text>
<text x="455.40" y="546.80" font-size="9.6" text-anchor="middle" font-weight="normal" fill="#000" textLength="70.5" lengthAdjust="spacingAndGlyphs">Early myelocytes</text>
<text x="544.40" y="546.80" font-size="9.6" text-anchor="middle" font-weight="normal" fill="#000" textLength="18.5" lengthAdjust="spacingAndGlyphs">0.18</text>
<text x="637.30" y="546.80" font-size="9.6" text-anchor="middle" font-weight="normal" fill="#000" textLength="29.0" lengthAdjust="spacingAndGlyphs">&lt;0.001</text>
<text x="455.40" y="564.40" font-size="9.6" text-anchor="middle" font-weight="normal" fill="#000" textLength="55.0" lengthAdjust="spacingAndGlyphs">Granulocytes</text>
<text x="544.40" y="564.40" font-size="9.6" text-anchor="middle" font-weight="normal" fill="#000" textLength="13.0" lengthAdjust="spacingAndGlyphs">0.2</text>
<text x="637.30" y="564.40" font-size="9.6" text-anchor="middle" font-weight="normal" fill="#000" textLength="24.0" lengthAdjust="spacingAndGlyphs">0.004</text>
<text x="455.40" y="583.10" font-size="9.6" text-anchor="middle" font-weight="normal" fill="#000" textLength="59.0" lengthAdjust="spacingAndGlyphs">Non- Classical</text>
<text x="455.40" y="595.40" font-size="9.6" text-anchor="middle" font-weight="normal" fill="#000" textLength="47.0" lengthAdjust="spacingAndGlyphs">Monocytes</text>
<text x="544.40" y="588.70" font-size="9.6" text-anchor="middle" font-weight="normal" fill="#000" textLength="18.5" lengthAdjust="spacingAndGlyphs">0.15</text>
<text x="637.30" y="588.70" font-size="9.6" text-anchor="middle" font-weight="normal" fill="#000" textLength="29.0" lengthAdjust="spacingAndGlyphs">&lt;0.001</text>
<text x="455.40" y="613.60" font-size="9.6" text-anchor="middle" font-weight="normal" fill="#000" textLength="66.0" lengthAdjust="spacingAndGlyphs">preDC/Classical</text>
<text x="455.40" y="626.50" font-size="9.6" text-anchor="middle" font-weight="normal" fill="#000" textLength="47.0" lengthAdjust="spacingAndGlyphs">Monocytes</text>
<text x="544.40" y="619.80" font-size="9.6" text-anchor="middle" font-weight="normal" fill="#000" textLength="24.0" lengthAdjust="spacingAndGlyphs">0.323</text>
<text x="637.30" y="619.80" font-size="9.6" text-anchor="middle" font-weight="normal" fill="#000" textLength="29.0" lengthAdjust="spacingAndGlyphs">&lt;0.001</text>
<text x="9.90" y="647.80" font-size="10.8" text-anchor="start" font-weight="bold" fill="#000" >g</text>
<rect x="1.2" y="686.3" width="49.00" height="66.90" fill="#ededed"/>
<rect x="50.80" y="686.80" width="265.40" height="18.20" fill="#ededed"/>
<rect x="50.80" y="722.40" width="265.40" height="29.90" fill="#ededed"/>
<line x1="1.2" y1="658.7" x2="316.2" y2="658.7" stroke="#ababab" stroke-width="1.5"/>
<line x1="1.2" y1="686.3" x2="316.2" y2="686.3" stroke="#9a9a9a" stroke-width="1.1"/>
<line x1="1.2" y1="753.2" x2="316.2" y2="753.2" stroke="#9a9a9a" stroke-width="1.2"/>
<text x="9.90" y="676.00" font-size="9.3" text-anchor="start" font-weight="bold" fill="#000" textLength="31.8" lengthAdjust="spacingAndGlyphs">Marker</text>
<text x="101.80" y="676.00" font-size="9.3" text-anchor="middle" font-weight="bold" fill="#000" textLength="42.2" lengthAdjust="spacingAndGlyphs">Cell types</text>
<text x="193.40" y="670.70" font-size="8.0" text-anchor="middle" font-weight="bold" fill="#000" textLength="32.3" lengthAdjust="spacingAndGlyphs">Mean of</text>
<text x="193.40" y="680.60" font-size="8.0" text-anchor="middle" font-weight="bold" fill="#000" textLength="60.5" lengthAdjust="spacingAndGlyphs">(C1D1-Baseline)</text>
<text x="274.80" y="670.70" font-size="8.0" text-anchor="middle" font-weight="bold" fill="#000" textLength="27.6" lengthAdjust="spacingAndGlyphs">P value</text>
<text x="274.80" y="680.60" font-size="8.0" text-anchor="middle" font-weight="bold" fill="#000" textLength="64.4" lengthAdjust="spacingAndGlyphs">Baseline vs C1D1</text>
<text x="14.90" y="724.10" font-size="9.6" text-anchor="start" font-weight="normal" fill="#000" textLength="21.8" lengthAdjust="spacingAndGlyphs">CCR2</text>
<text x="101.80" y="699.20" font-size="9.6" text-anchor="middle" font-weight="normal" fill="#000" textLength="21.6" lengthAdjust="spacingAndGlyphs">cDC2</text>
<text x="193.40" y="699.20" font-size="9.6" text-anchor="middle" font-weight="normal" fill="#000" textLength="24.0" lengthAdjust="spacingAndGlyphs">0.224</text>
<text x="274.80" y="699.20" font-size="9.6" text-anchor="middle" font-weight="normal" fill="#000" textLength="29.0" lengthAdjust="spacingAndGlyphs">&lt;0.001</text>
<text x="101.80" y="717.40" font-size="9.6" text-anchor="middle" font-weight="normal" fill="#000" textLength="70.5" lengthAdjust="spacingAndGlyphs">Early myelocytes</text>
<text x="193.40" y="717.40" font-size="9.6" text-anchor="middle" font-weight="normal" fill="#000" textLength="24.0" lengthAdjust="spacingAndGlyphs">0.026</text>
<text x="274.80" y="717.40" font-size="9.6" text-anchor="middle" font-weight="normal" fill="#000" textLength="24.0" lengthAdjust="spacingAndGlyphs">0.001</text>
<text x="101.80" y="735.20" font-size="9.6" text-anchor="middle" font-weight="normal" fill="#000" textLength="56.5" lengthAdjust="spacingAndGlyphs">Non-Classical</text>
<text x="101.80" y="747.60" font-size="9.6" text-anchor="middle" font-weight="normal" fill="#000" textLength="47.0" lengthAdjust="spacingAndGlyphs">Monocytes</text>
<text x="193.40" y="741.40" font-size="9.6" text-anchor="middle" font-weight="normal" fill="#000" textLength="24.0" lengthAdjust="spacingAndGlyphs">0.019</text>
<text x="274.80" y="741.40" font-size="9.6" text-anchor="middle" font-weight="normal" fill="#000" textLength="29.0" lengthAdjust="spacingAndGlyphs">&lt;0.001</text></g>
</svg>
</body></html>
